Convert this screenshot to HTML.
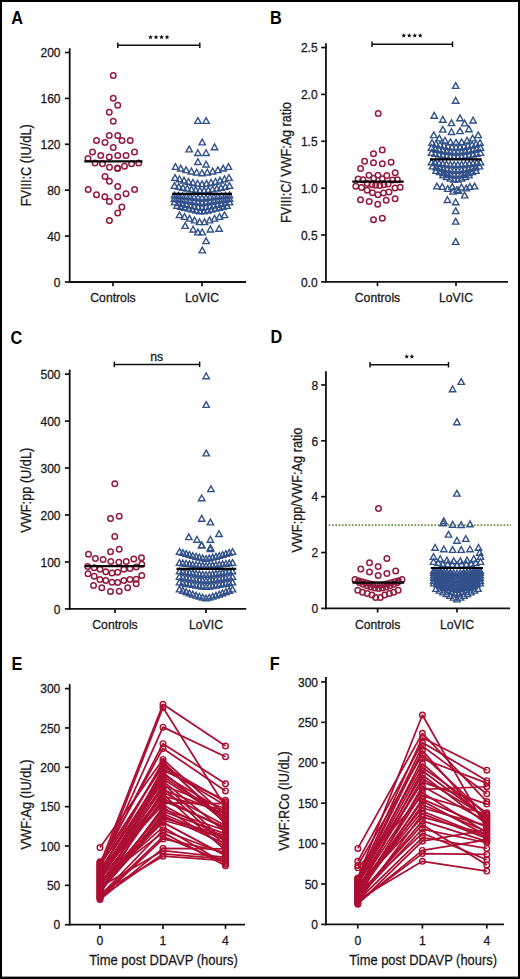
<!DOCTYPE html><html><head><meta charset="utf-8"><style>html,body{margin:0;padding:0;background:#fff;}svg{display:block;}html,body{overflow:hidden;}text{font-family:"Liberation Sans",sans-serif;}</style></head><body><svg width="520" height="979" viewBox="0 0 520 979" font-family="Liberation Sans, sans-serif">
<rect x="0" y="0" width="520" height="979" fill="#000"/>
<rect x="2" y="2" width="516" height="974.6" fill="#fff"/>
<text transform="translate(11.2 23.6) scale(0.92 1)" font-size="17.7" font-weight="bold" fill="#000">A</text>
<text transform="translate(270.0 23.6) scale(0.92 1)" font-size="17.7" font-weight="bold" fill="#000">B</text>
<text transform="translate(10.6 343.7) scale(0.92 1)" font-size="17.7" font-weight="bold" fill="#000">C</text>
<text transform="translate(270.4 343.2) scale(0.92 1)" font-size="17.7" font-weight="bold" fill="#000">D</text>
<text transform="translate(11.6 669.6) scale(0.92 1)" font-size="17.7" font-weight="bold" fill="#000">E</text>
<text transform="translate(269.7 669.6) scale(0.92 1)" font-size="17.7" font-weight="bold" fill="#000">F</text>
<line x1="69.70" y1="48.30" x2="69.70" y2="282.80" stroke="#111" stroke-width="1.8" />
<line x1="64.90" y1="282.00" x2="69.70" y2="282.00" stroke="#111" stroke-width="1.7" />
<text x="60.5" y="286.7" font-size="12" text-anchor="end" font-weight="normal" fill="#1a1a1a" stroke="#1a1a1a" stroke-width="0.28">0</text>
<line x1="64.90" y1="236.10" x2="69.70" y2="236.10" stroke="#111" stroke-width="1.7" />
<text x="60.5" y="240.79999999999998" font-size="12" text-anchor="end" font-weight="normal" fill="#1a1a1a" stroke="#1a1a1a" stroke-width="0.28">40</text>
<line x1="64.90" y1="190.20" x2="69.70" y2="190.20" stroke="#111" stroke-width="1.7" />
<text x="60.5" y="194.89999999999998" font-size="12" text-anchor="end" font-weight="normal" fill="#1a1a1a" stroke="#1a1a1a" stroke-width="0.28">80</text>
<line x1="64.90" y1="144.30" x2="69.70" y2="144.30" stroke="#111" stroke-width="1.7" />
<text x="60.5" y="149.0" font-size="12" text-anchor="end" font-weight="normal" fill="#1a1a1a" stroke="#1a1a1a" stroke-width="0.28">120</text>
<line x1="64.90" y1="98.40" x2="69.70" y2="98.40" stroke="#111" stroke-width="1.7" />
<text x="60.5" y="103.10000000000001" font-size="12" text-anchor="end" font-weight="normal" fill="#1a1a1a" stroke="#1a1a1a" stroke-width="0.28">160</text>
<line x1="64.90" y1="52.50" x2="69.70" y2="52.50" stroke="#111" stroke-width="1.7" />
<text x="60.5" y="57.2" font-size="12" text-anchor="end" font-weight="normal" fill="#1a1a1a" stroke="#1a1a1a" stroke-width="0.28">200</text>
<line x1="68.90" y1="282.00" x2="246.00" y2="282.00" stroke="#111" stroke-width="1.8" />
<line x1="113.00" y1="282.00" x2="113.00" y2="286.20" stroke="#111" stroke-width="1.7" />
<line x1="202.00" y1="282.00" x2="202.00" y2="286.20" stroke="#111" stroke-width="1.7" />
<text x="113" y="301.5" font-size="12.2" text-anchor="middle" font-weight="normal" fill="#1a1a1a" stroke="#1a1a1a" stroke-width="0.28">Controls</text>
<text x="202" y="301.5" font-size="12.2" text-anchor="middle" font-weight="normal" fill="#1a1a1a" stroke="#1a1a1a" stroke-width="0.28">LoVIC</text>
<text x="31.1" y="165.3" font-size="14.3" text-anchor="middle" font-weight="normal" fill="#1a1a1a" stroke="#1a1a1a" stroke-width="0.28" textLength="82" lengthAdjust="spacingAndGlyphs" transform="rotate(-90 31.1 165.3)">FVIII:C (IU/dL)</text>
<line x1="117.80" y1="45.30" x2="199.80" y2="45.30" stroke="#111" stroke-width="1.5" />
<line x1="117.80" y1="42.50" x2="117.80" y2="48.10" stroke="#111" stroke-width="1.5" />
<line x1="199.80" y1="42.50" x2="199.80" y2="48.10" stroke="#111" stroke-width="1.5" />
<polygon points="150.55,34.70 151.23,36.27 152.93,36.43 151.64,37.56 152.02,39.22 150.55,38.35 149.08,39.22 149.46,37.56 148.17,36.43 149.87,36.27" fill="#111"/>
<polygon points="156.05,34.70 156.73,36.27 158.43,36.43 157.14,37.56 157.52,39.22 156.05,38.35 154.58,39.22 154.96,37.56 153.67,36.43 155.37,36.27" fill="#111"/>
<polygon points="161.55,34.70 162.23,36.27 163.93,36.43 162.64,37.56 163.02,39.22 161.55,38.35 160.08,39.22 160.46,37.56 159.17,36.43 160.87,36.27" fill="#111"/>
<polygon points="167.05,34.70 167.73,36.27 169.43,36.43 168.14,37.56 168.52,39.22 167.05,38.35 165.58,39.22 165.96,37.56 164.67,36.43 166.37,36.27" fill="#111"/>
<line x1="325.95" y1="43.20" x2="325.95" y2="282.70" stroke="#111" stroke-width="1.8" />
<line x1="321.15" y1="281.90" x2="325.95" y2="281.90" stroke="#111" stroke-width="1.7" />
<text x="317.6" y="286.59999999999997" font-size="12" text-anchor="end" font-weight="normal" fill="#1a1a1a" stroke="#1a1a1a" stroke-width="0.28">0.0</text>
<line x1="321.15" y1="235.02" x2="325.95" y2="235.02" stroke="#111" stroke-width="1.7" />
<text x="317.6" y="239.72499999999997" font-size="12" text-anchor="end" font-weight="normal" fill="#1a1a1a" stroke="#1a1a1a" stroke-width="0.28">0.5</text>
<line x1="321.15" y1="188.15" x2="325.95" y2="188.15" stroke="#111" stroke-width="1.7" />
<text x="317.6" y="192.84999999999997" font-size="12" text-anchor="end" font-weight="normal" fill="#1a1a1a" stroke="#1a1a1a" stroke-width="0.28">1.0</text>
<line x1="321.15" y1="141.27" x2="325.95" y2="141.27" stroke="#111" stroke-width="1.7" />
<text x="317.6" y="145.97499999999997" font-size="12" text-anchor="end" font-weight="normal" fill="#1a1a1a" stroke="#1a1a1a" stroke-width="0.28">1.5</text>
<line x1="321.15" y1="94.40" x2="325.95" y2="94.40" stroke="#111" stroke-width="1.7" />
<text x="317.6" y="99.09999999999998" font-size="12" text-anchor="end" font-weight="normal" fill="#1a1a1a" stroke="#1a1a1a" stroke-width="0.28">2.0</text>
<line x1="321.15" y1="47.52" x2="325.95" y2="47.52" stroke="#111" stroke-width="1.7" />
<text x="317.6" y="52.22499999999998" font-size="12" text-anchor="end" font-weight="normal" fill="#1a1a1a" stroke="#1a1a1a" stroke-width="0.28">2.5</text>
<line x1="325.15" y1="281.90" x2="508.00" y2="281.90" stroke="#111" stroke-width="1.8" />
<line x1="377.50" y1="281.90" x2="377.50" y2="286.10" stroke="#111" stroke-width="1.7" />
<line x1="456.00" y1="281.90" x2="456.00" y2="286.10" stroke="#111" stroke-width="1.7" />
<text x="377.5" y="301.5" font-size="12.2" text-anchor="middle" font-weight="normal" fill="#1a1a1a" stroke="#1a1a1a" stroke-width="0.28">Controls</text>
<text x="456" y="301.5" font-size="12.2" text-anchor="middle" font-weight="normal" fill="#1a1a1a" stroke="#1a1a1a" stroke-width="0.28">LoVIC</text>
<text x="291.5" y="162.4" font-size="14.3" text-anchor="middle" font-weight="normal" fill="#1a1a1a" stroke="#1a1a1a" stroke-width="0.28" textLength="121" lengthAdjust="spacingAndGlyphs" transform="rotate(-90 291.5 162.4)">FVIII:C/ VWF:Ag ratio</text>
<line x1="372.00" y1="44.30" x2="452.50" y2="44.30" stroke="#111" stroke-width="1.5" />
<line x1="372.00" y1="41.50" x2="372.00" y2="47.10" stroke="#111" stroke-width="1.5" />
<line x1="452.50" y1="41.50" x2="452.50" y2="47.10" stroke="#111" stroke-width="1.5" />
<polygon points="403.75,33.10 404.43,34.67 406.13,34.83 404.84,35.96 405.22,37.62 403.75,36.75 402.28,37.62 402.66,35.96 401.37,34.83 403.07,34.67" fill="#111"/>
<polygon points="409.25,33.10 409.93,34.67 411.63,34.83 410.34,35.96 410.72,37.62 409.25,36.75 407.78,37.62 408.16,35.96 406.87,34.83 408.57,34.67" fill="#111"/>
<polygon points="414.75,33.10 415.43,34.67 417.13,34.83 415.84,35.96 416.22,37.62 414.75,36.75 413.28,37.62 413.66,35.96 412.37,34.83 414.07,34.67" fill="#111"/>
<polygon points="420.25,33.10 420.93,34.67 422.63,34.83 421.34,35.96 421.72,37.62 420.25,36.75 418.78,37.62 419.16,35.96 417.87,34.83 419.57,34.67" fill="#111"/>
<line x1="69.70" y1="369.60" x2="69.70" y2="609.70" stroke="#111" stroke-width="1.8" />
<line x1="64.90" y1="608.90" x2="69.70" y2="608.90" stroke="#111" stroke-width="1.7" />
<text x="60.5" y="613.6" font-size="12" text-anchor="end" font-weight="normal" fill="#1a1a1a" stroke="#1a1a1a" stroke-width="0.28">0</text>
<line x1="64.90" y1="561.94" x2="69.70" y2="561.94" stroke="#111" stroke-width="1.7" />
<text x="60.5" y="566.64" font-size="12" text-anchor="end" font-weight="normal" fill="#1a1a1a" stroke="#1a1a1a" stroke-width="0.28">100</text>
<line x1="64.90" y1="514.98" x2="69.70" y2="514.98" stroke="#111" stroke-width="1.7" />
<text x="60.5" y="519.6800000000001" font-size="12" text-anchor="end" font-weight="normal" fill="#1a1a1a" stroke="#1a1a1a" stroke-width="0.28">200</text>
<line x1="64.90" y1="468.02" x2="69.70" y2="468.02" stroke="#111" stroke-width="1.7" />
<text x="60.5" y="472.71999999999997" font-size="12" text-anchor="end" font-weight="normal" fill="#1a1a1a" stroke="#1a1a1a" stroke-width="0.28">300</text>
<line x1="64.90" y1="421.06" x2="69.70" y2="421.06" stroke="#111" stroke-width="1.7" />
<text x="60.5" y="425.75999999999993" font-size="12" text-anchor="end" font-weight="normal" fill="#1a1a1a" stroke="#1a1a1a" stroke-width="0.28">400</text>
<line x1="64.90" y1="374.10" x2="69.70" y2="374.10" stroke="#111" stroke-width="1.7" />
<text x="60.5" y="378.79999999999995" font-size="12" text-anchor="end" font-weight="normal" fill="#1a1a1a" stroke="#1a1a1a" stroke-width="0.28">500</text>
<line x1="68.90" y1="608.90" x2="246.30" y2="608.90" stroke="#111" stroke-width="1.8" />
<line x1="115.00" y1="608.90" x2="115.00" y2="613.10" stroke="#111" stroke-width="1.7" />
<line x1="206.00" y1="608.90" x2="206.00" y2="613.10" stroke="#111" stroke-width="1.7" />
<text x="115" y="628.9" font-size="12.2" text-anchor="middle" font-weight="normal" fill="#1a1a1a" stroke="#1a1a1a" stroke-width="0.28">Controls</text>
<text x="206" y="628.9" font-size="12.2" text-anchor="middle" font-weight="normal" fill="#1a1a1a" stroke="#1a1a1a" stroke-width="0.28">LoVIC</text>
<text x="31.2" y="490.2" font-size="14.3" text-anchor="middle" font-weight="normal" fill="#1a1a1a" stroke="#1a1a1a" stroke-width="0.28" textLength="85" lengthAdjust="spacingAndGlyphs" transform="rotate(-90 31.2 490.2)">VWF:pp (U/dL)</text>
<line x1="114.30" y1="364.40" x2="199.60" y2="364.40" stroke="#111" stroke-width="1.5" />
<line x1="114.30" y1="361.60" x2="114.30" y2="367.20" stroke="#111" stroke-width="1.5" />
<line x1="199.60" y1="361.60" x2="199.60" y2="367.20" stroke="#111" stroke-width="1.5" />
<text x="156.7" y="360.8" font-size="12.3" text-anchor="middle" font-weight="normal" fill="#1a1a1a" stroke="#1a1a1a" stroke-width="0.28">ns</text>
<line x1="325.95" y1="371.30" x2="325.95" y2="609.20" stroke="#111" stroke-width="1.8" />
<line x1="321.15" y1="608.40" x2="325.95" y2="608.40" stroke="#111" stroke-width="1.7" />
<text x="318.2" y="613.1" font-size="12" text-anchor="end" font-weight="normal" fill="#1a1a1a" stroke="#1a1a1a" stroke-width="0.28">0</text>
<line x1="321.15" y1="552.54" x2="325.95" y2="552.54" stroke="#111" stroke-width="1.7" />
<text x="318.2" y="557.24" font-size="12" text-anchor="end" font-weight="normal" fill="#1a1a1a" stroke="#1a1a1a" stroke-width="0.28">2</text>
<line x1="321.15" y1="496.68" x2="325.95" y2="496.68" stroke="#111" stroke-width="1.7" />
<text x="318.2" y="501.37999999999994" font-size="12" text-anchor="end" font-weight="normal" fill="#1a1a1a" stroke="#1a1a1a" stroke-width="0.28">4</text>
<line x1="321.15" y1="440.82" x2="325.95" y2="440.82" stroke="#111" stroke-width="1.7" />
<text x="318.2" y="445.52" font-size="12" text-anchor="end" font-weight="normal" fill="#1a1a1a" stroke="#1a1a1a" stroke-width="0.28">6</text>
<line x1="321.15" y1="384.96" x2="325.95" y2="384.96" stroke="#111" stroke-width="1.7" />
<text x="318.2" y="389.65999999999997" font-size="12" text-anchor="end" font-weight="normal" fill="#1a1a1a" stroke="#1a1a1a" stroke-width="0.28">8</text>
<line x1="325.15" y1="608.40" x2="510.00" y2="608.40" stroke="#111" stroke-width="1.8" />
<line x1="377.60" y1="608.40" x2="377.60" y2="612.60" stroke="#111" stroke-width="1.7" />
<line x1="457.00" y1="608.40" x2="457.00" y2="612.60" stroke="#111" stroke-width="1.7" />
<text x="377.6" y="628.9" font-size="12.2" text-anchor="middle" font-weight="normal" fill="#1a1a1a" stroke="#1a1a1a" stroke-width="0.28">Controls</text>
<text x="457" y="628.9" font-size="12.2" text-anchor="middle" font-weight="normal" fill="#1a1a1a" stroke="#1a1a1a" stroke-width="0.28">LoVIC</text>
<text x="301.6" y="490.1" font-size="14.3" text-anchor="middle" font-weight="normal" fill="#1a1a1a" stroke="#1a1a1a" stroke-width="0.28" textLength="125" lengthAdjust="spacingAndGlyphs" transform="rotate(-90 301.6 490.1)">VWF:pp/VWF:Ag ratio</text>
<line x1="370.00" y1="364.70" x2="448.50" y2="364.70" stroke="#111" stroke-width="1.5" />
<line x1="370.00" y1="361.90" x2="370.00" y2="367.50" stroke="#111" stroke-width="1.5" />
<line x1="448.50" y1="361.90" x2="448.50" y2="367.50" stroke="#111" stroke-width="1.5" />
<polygon points="406.70,354.10 407.38,355.67 409.08,355.83 407.79,356.96 408.17,358.62 406.70,357.75 405.23,358.62 405.61,356.96 404.32,355.83 406.02,355.67" fill="#111"/>
<polygon points="411.90,354.10 412.58,355.67 414.28,355.83 412.99,356.96 413.37,358.62 411.90,357.75 410.43,358.62 410.81,356.96 409.52,355.83 411.22,355.67" fill="#111"/>
<line x1="69.70" y1="684.10" x2="69.70" y2="925.50" stroke="#111" stroke-width="1.8" />
<line x1="64.90" y1="924.70" x2="69.70" y2="924.70" stroke="#111" stroke-width="1.7" />
<text x="60.3" y="929.4000000000001" font-size="12" text-anchor="end" font-weight="normal" fill="#1a1a1a" stroke="#1a1a1a" stroke-width="0.28">0</text>
<line x1="64.90" y1="885.35" x2="69.70" y2="885.35" stroke="#111" stroke-width="1.7" />
<text x="60.3" y="890.0500000000001" font-size="12" text-anchor="end" font-weight="normal" fill="#1a1a1a" stroke="#1a1a1a" stroke-width="0.28">50</text>
<line x1="64.90" y1="846.00" x2="69.70" y2="846.00" stroke="#111" stroke-width="1.7" />
<text x="60.3" y="850.7" font-size="12" text-anchor="end" font-weight="normal" fill="#1a1a1a" stroke="#1a1a1a" stroke-width="0.28">100</text>
<line x1="64.90" y1="806.65" x2="69.70" y2="806.65" stroke="#111" stroke-width="1.7" />
<text x="60.3" y="811.3500000000001" font-size="12" text-anchor="end" font-weight="normal" fill="#1a1a1a" stroke="#1a1a1a" stroke-width="0.28">150</text>
<line x1="64.90" y1="767.30" x2="69.70" y2="767.30" stroke="#111" stroke-width="1.7" />
<text x="60.3" y="772.0000000000001" font-size="12" text-anchor="end" font-weight="normal" fill="#1a1a1a" stroke="#1a1a1a" stroke-width="0.28">200</text>
<line x1="64.90" y1="727.95" x2="69.70" y2="727.95" stroke="#111" stroke-width="1.7" />
<text x="60.3" y="732.6500000000001" font-size="12" text-anchor="end" font-weight="normal" fill="#1a1a1a" stroke="#1a1a1a" stroke-width="0.28">250</text>
<line x1="64.90" y1="688.60" x2="69.70" y2="688.60" stroke="#111" stroke-width="1.7" />
<text x="60.3" y="693.3000000000001" font-size="12" text-anchor="end" font-weight="normal" fill="#1a1a1a" stroke="#1a1a1a" stroke-width="0.28">300</text>
<line x1="68.90" y1="924.70" x2="245.00" y2="924.70" stroke="#111" stroke-width="1.8" />
<line x1="100.00" y1="924.70" x2="100.00" y2="928.90" stroke="#111" stroke-width="1.7" />
<line x1="163.00" y1="924.70" x2="163.00" y2="928.90" stroke="#111" stroke-width="1.7" />
<line x1="225.50" y1="924.70" x2="225.50" y2="928.90" stroke="#111" stroke-width="1.7" />
<text x="100" y="944.5" font-size="12.2" text-anchor="middle" font-weight="normal" fill="#1a1a1a" stroke="#1a1a1a" stroke-width="0.28">0</text>
<text x="163" y="944.5" font-size="12.2" text-anchor="middle" font-weight="normal" fill="#1a1a1a" stroke="#1a1a1a" stroke-width="0.28">1</text>
<text x="225.5" y="944.5" font-size="12.2" text-anchor="middle" font-weight="normal" fill="#1a1a1a" stroke="#1a1a1a" stroke-width="0.28">4</text>
<text x="31.2" y="804.4" font-size="14.3" text-anchor="middle" font-weight="normal" fill="#1a1a1a" stroke="#1a1a1a" stroke-width="0.28" textLength="90" lengthAdjust="spacingAndGlyphs" transform="rotate(-90 31.2 804.4)">VWF:Ag (IU/dL)</text>
<text x="163.6" y="965" font-size="15.2" text-anchor="middle" font-weight="normal" fill="#1a1a1a" stroke="#1a1a1a" stroke-width="0.28" textLength="148.6" lengthAdjust="spacingAndGlyphs">Time post DDAVP (hours)</text>
<line x1="325.95" y1="677.00" x2="325.95" y2="925.20" stroke="#111" stroke-width="1.8" />
<line x1="321.15" y1="924.40" x2="325.95" y2="924.40" stroke="#111" stroke-width="1.7" />
<text x="318" y="929.1" font-size="12" text-anchor="end" font-weight="normal" fill="#1a1a1a" stroke="#1a1a1a" stroke-width="0.28">0</text>
<line x1="321.15" y1="883.99" x2="325.95" y2="883.99" stroke="#111" stroke-width="1.7" />
<text x="318" y="888.6850000000001" font-size="12" text-anchor="end" font-weight="normal" fill="#1a1a1a" stroke="#1a1a1a" stroke-width="0.28">50</text>
<line x1="321.15" y1="843.57" x2="325.95" y2="843.57" stroke="#111" stroke-width="1.7" />
<text x="318" y="848.27" font-size="12" text-anchor="end" font-weight="normal" fill="#1a1a1a" stroke="#1a1a1a" stroke-width="0.28">100</text>
<line x1="321.15" y1="803.15" x2="325.95" y2="803.15" stroke="#111" stroke-width="1.7" />
<text x="318" y="807.855" font-size="12" text-anchor="end" font-weight="normal" fill="#1a1a1a" stroke="#1a1a1a" stroke-width="0.28">150</text>
<line x1="321.15" y1="762.74" x2="325.95" y2="762.74" stroke="#111" stroke-width="1.7" />
<text x="318" y="767.44" font-size="12" text-anchor="end" font-weight="normal" fill="#1a1a1a" stroke="#1a1a1a" stroke-width="0.28">200</text>
<line x1="321.15" y1="722.32" x2="325.95" y2="722.32" stroke="#111" stroke-width="1.7" />
<text x="318" y="727.025" font-size="12" text-anchor="end" font-weight="normal" fill="#1a1a1a" stroke="#1a1a1a" stroke-width="0.28">250</text>
<line x1="321.15" y1="681.91" x2="325.95" y2="681.91" stroke="#111" stroke-width="1.7" />
<text x="318" y="686.61" font-size="12" text-anchor="end" font-weight="normal" fill="#1a1a1a" stroke="#1a1a1a" stroke-width="0.28">300</text>
<line x1="325.15" y1="924.40" x2="504.00" y2="924.40" stroke="#111" stroke-width="1.8" />
<line x1="357.80" y1="924.40" x2="357.80" y2="928.60" stroke="#111" stroke-width="1.7" />
<line x1="422.40" y1="924.40" x2="422.40" y2="928.60" stroke="#111" stroke-width="1.7" />
<line x1="486.80" y1="924.40" x2="486.80" y2="928.60" stroke="#111" stroke-width="1.7" />
<text x="357.8" y="944.5" font-size="12.2" text-anchor="middle" font-weight="normal" fill="#1a1a1a" stroke="#1a1a1a" stroke-width="0.28">0</text>
<text x="422.4" y="944.5" font-size="12.2" text-anchor="middle" font-weight="normal" fill="#1a1a1a" stroke="#1a1a1a" stroke-width="0.28">1</text>
<text x="486.8" y="944.5" font-size="12.2" text-anchor="middle" font-weight="normal" fill="#1a1a1a" stroke="#1a1a1a" stroke-width="0.28">4</text>
<text x="288.7" y="801" font-size="14.3" text-anchor="middle" font-weight="normal" fill="#1a1a1a" stroke="#1a1a1a" stroke-width="0.28" textLength="99.7" lengthAdjust="spacingAndGlyphs" transform="rotate(-90 288.7 801)">VWF:RCo (IU/dL)</text>
<text x="423.2" y="965" font-size="15.2" text-anchor="middle" font-weight="normal" fill="#1a1a1a" stroke="#1a1a1a" stroke-width="0.28" textLength="147.7" lengthAdjust="spacingAndGlyphs">Time post DDAVP (hours)</text>
<circle cx="113.25" cy="75.50" r="2.75" fill="none" stroke="#951b3d" stroke-width="1.5"/>
<circle cx="113.25" cy="98.25" r="2.75" fill="none" stroke="#951b3d" stroke-width="1.5"/>
<circle cx="117.75" cy="105.25" r="2.75" fill="none" stroke="#951b3d" stroke-width="1.5"/>
<circle cx="109.25" cy="112.25" r="2.75" fill="none" stroke="#951b3d" stroke-width="1.5"/>
<circle cx="113.25" cy="121.25" r="2.75" fill="none" stroke="#951b3d" stroke-width="1.5"/>
<circle cx="109.25" cy="135.50" r="2.75" fill="none" stroke="#951b3d" stroke-width="1.5"/>
<circle cx="117.75" cy="135.50" r="2.75" fill="none" stroke="#951b3d" stroke-width="1.5"/>
<circle cx="96.50" cy="140.50" r="2.75" fill="none" stroke="#951b3d" stroke-width="1.5"/>
<circle cx="105.00" cy="142.50" r="2.75" fill="none" stroke="#951b3d" stroke-width="1.5"/>
<circle cx="122.00" cy="140.50" r="2.75" fill="none" stroke="#951b3d" stroke-width="1.5"/>
<circle cx="130.25" cy="140.50" r="2.75" fill="none" stroke="#951b3d" stroke-width="1.5"/>
<circle cx="113.25" cy="147.50" r="2.75" fill="none" stroke="#951b3d" stroke-width="1.5"/>
<circle cx="92.50" cy="152.00" r="2.75" fill="none" stroke="#951b3d" stroke-width="1.5"/>
<circle cx="100.75" cy="155.50" r="2.75" fill="none" stroke="#951b3d" stroke-width="1.5"/>
<circle cx="109.25" cy="157.00" r="2.75" fill="none" stroke="#951b3d" stroke-width="1.5"/>
<circle cx="117.75" cy="155.50" r="2.75" fill="none" stroke="#951b3d" stroke-width="1.5"/>
<circle cx="126.00" cy="155.50" r="2.75" fill="none" stroke="#951b3d" stroke-width="1.5"/>
<circle cx="134.50" cy="152.00" r="2.75" fill="none" stroke="#951b3d" stroke-width="1.5"/>
<circle cx="88.00" cy="158.50" r="2.75" fill="none" stroke="#951b3d" stroke-width="1.5"/>
<circle cx="95.00" cy="163.00" r="2.75" fill="none" stroke="#951b3d" stroke-width="1.5"/>
<circle cx="102.50" cy="163.80" r="2.75" fill="none" stroke="#951b3d" stroke-width="1.5"/>
<circle cx="109.50" cy="167.20" r="2.75" fill="none" stroke="#951b3d" stroke-width="1.5"/>
<circle cx="117.50" cy="168.00" r="2.75" fill="none" stroke="#951b3d" stroke-width="1.5"/>
<circle cx="117.50" cy="168.60" r="2.75" fill="none" stroke="#951b3d" stroke-width="1.5"/>
<circle cx="124.50" cy="166.30" r="2.75" fill="none" stroke="#951b3d" stroke-width="1.5"/>
<circle cx="131.60" cy="163.80" r="2.75" fill="none" stroke="#951b3d" stroke-width="1.5"/>
<circle cx="138.70" cy="163.00" r="2.75" fill="none" stroke="#951b3d" stroke-width="1.5"/>
<circle cx="105.00" cy="176.40" r="2.75" fill="none" stroke="#951b3d" stroke-width="1.5"/>
<circle cx="109.40" cy="181.20" r="2.75" fill="none" stroke="#951b3d" stroke-width="1.5"/>
<circle cx="117.70" cy="186.40" r="2.75" fill="none" stroke="#951b3d" stroke-width="1.5"/>
<circle cx="88.20" cy="189.50" r="2.75" fill="none" stroke="#951b3d" stroke-width="1.5"/>
<circle cx="134.60" cy="189.50" r="2.75" fill="none" stroke="#951b3d" stroke-width="1.5"/>
<circle cx="96.50" cy="194.80" r="2.75" fill="none" stroke="#951b3d" stroke-width="1.5"/>
<circle cx="104.80" cy="196.70" r="2.75" fill="none" stroke="#951b3d" stroke-width="1.5"/>
<circle cx="117.70" cy="196.70" r="2.75" fill="none" stroke="#951b3d" stroke-width="1.5"/>
<circle cx="126.00" cy="193.80" r="2.75" fill="none" stroke="#951b3d" stroke-width="1.5"/>
<circle cx="109.40" cy="201.50" r="2.75" fill="none" stroke="#951b3d" stroke-width="1.5"/>
<circle cx="121.90" cy="207.10" r="2.75" fill="none" stroke="#951b3d" stroke-width="1.5"/>
<circle cx="117.70" cy="213.00" r="2.75" fill="none" stroke="#951b3d" stroke-width="1.5"/>
<circle cx="109.40" cy="220.60" r="2.75" fill="none" stroke="#951b3d" stroke-width="1.5"/>
<line x1="84.30" y1="161.30" x2="142.50" y2="161.30" stroke="#000" stroke-width="2.2" />
<path d="M197.90 117.62L201.10 123.38L194.70 123.38Z" fill="none" stroke="#32508a" stroke-width="1.4" stroke-linejoin="miter"/>
<path d="M206.10 117.62L209.30 123.38L202.90 123.38Z" fill="none" stroke="#32508a" stroke-width="1.4" stroke-linejoin="miter"/>
<path d="M202.20 139.12L205.40 144.88L199.00 144.88Z" fill="none" stroke="#32508a" stroke-width="1.4" stroke-linejoin="miter"/>
<path d="M214.50 143.92L217.70 149.68L211.30 149.68Z" fill="none" stroke="#32508a" stroke-width="1.4" stroke-linejoin="miter"/>
<path d="M189.20 146.12L192.40 151.88L186.00 151.88Z" fill="none" stroke="#32508a" stroke-width="1.4" stroke-linejoin="miter"/>
<path d="M197.90 149.72L201.10 155.48L194.70 155.48Z" fill="none" stroke="#32508a" stroke-width="1.4" stroke-linejoin="miter"/>
<path d="M206.10 149.72L209.30 155.48L202.90 155.48Z" fill="none" stroke="#32508a" stroke-width="1.4" stroke-linejoin="miter"/>
<path d="M197.90 158.72L201.10 164.48L194.70 164.48Z" fill="none" stroke="#32508a" stroke-width="1.4" stroke-linejoin="miter"/>
<path d="M206.10 161.22L209.30 166.98L202.90 166.98Z" fill="none" stroke="#32508a" stroke-width="1.4" stroke-linejoin="miter"/>
<path d="M175.50 163.62L178.70 169.38L172.30 169.38Z" fill="none" stroke="#32508a" stroke-width="1.4" stroke-linejoin="miter"/>
<path d="M180.80 165.31L184.00 171.07L177.60 171.07Z" fill="none" stroke="#32508a" stroke-width="1.4" stroke-linejoin="miter"/>
<path d="M186.10 166.84L189.30 172.60L182.90 172.60Z" fill="none" stroke="#32508a" stroke-width="1.4" stroke-linejoin="miter"/>
<path d="M191.40 168.17L194.60 173.93L188.20 173.93Z" fill="none" stroke="#32508a" stroke-width="1.4" stroke-linejoin="miter"/>
<path d="M196.70 169.26L199.90 175.02L193.50 175.02Z" fill="none" stroke="#32508a" stroke-width="1.4" stroke-linejoin="miter"/>
<path d="M202.00 169.92L205.20 175.68L198.80 175.68Z" fill="none" stroke="#32508a" stroke-width="1.4" stroke-linejoin="miter"/>
<path d="M207.30 169.26L210.50 175.02L204.10 175.02Z" fill="none" stroke="#32508a" stroke-width="1.4" stroke-linejoin="miter"/>
<path d="M212.60 168.17L215.80 173.93L209.40 173.93Z" fill="none" stroke="#32508a" stroke-width="1.4" stroke-linejoin="miter"/>
<path d="M217.90 166.84L221.10 172.60L214.70 172.60Z" fill="none" stroke="#32508a" stroke-width="1.4" stroke-linejoin="miter"/>
<path d="M223.20 165.31L226.40 171.07L220.00 171.07Z" fill="none" stroke="#32508a" stroke-width="1.4" stroke-linejoin="miter"/>
<path d="M228.50 163.62L231.70 169.38L225.30 169.38Z" fill="none" stroke="#32508a" stroke-width="1.4" stroke-linejoin="miter"/>
<path d="M175.00 174.62L178.20 180.38L171.80 180.38Z" fill="none" stroke="#32508a" stroke-width="1.4" stroke-linejoin="miter"/>
<path d="M179.50 176.02L182.70 181.78L176.30 181.78Z" fill="none" stroke="#32508a" stroke-width="1.4" stroke-linejoin="miter"/>
<path d="M184.00 177.31L187.20 183.07L180.80 183.07Z" fill="none" stroke="#32508a" stroke-width="1.4" stroke-linejoin="miter"/>
<path d="M188.50 178.47L191.70 184.23L185.30 184.23Z" fill="none" stroke="#32508a" stroke-width="1.4" stroke-linejoin="miter"/>
<path d="M193.00 179.49L196.20 185.25L189.80 185.25Z" fill="none" stroke="#32508a" stroke-width="1.4" stroke-linejoin="miter"/>
<path d="M197.50 180.32L200.70 186.08L194.30 186.08Z" fill="none" stroke="#32508a" stroke-width="1.4" stroke-linejoin="miter"/>
<path d="M202.00 180.82L205.20 186.58L198.80 186.58Z" fill="none" stroke="#32508a" stroke-width="1.4" stroke-linejoin="miter"/>
<path d="M206.50 180.32L209.70 186.08L203.30 186.08Z" fill="none" stroke="#32508a" stroke-width="1.4" stroke-linejoin="miter"/>
<path d="M211.00 179.49L214.20 185.25L207.80 185.25Z" fill="none" stroke="#32508a" stroke-width="1.4" stroke-linejoin="miter"/>
<path d="M215.50 178.47L218.70 184.23L212.30 184.23Z" fill="none" stroke="#32508a" stroke-width="1.4" stroke-linejoin="miter"/>
<path d="M220.00 177.31L223.20 183.07L216.80 183.07Z" fill="none" stroke="#32508a" stroke-width="1.4" stroke-linejoin="miter"/>
<path d="M224.50 176.02L227.70 181.78L221.30 181.78Z" fill="none" stroke="#32508a" stroke-width="1.4" stroke-linejoin="miter"/>
<path d="M229.00 174.62L232.20 180.38L225.80 180.38Z" fill="none" stroke="#32508a" stroke-width="1.4" stroke-linejoin="miter"/>
<path d="M174.50 182.62L177.70 188.38L171.30 188.38Z" fill="none" stroke="#32508a" stroke-width="1.4" stroke-linejoin="miter"/>
<path d="M178.73 183.62L181.93 189.38L175.53 189.38Z" fill="none" stroke="#32508a" stroke-width="1.4" stroke-linejoin="miter"/>
<path d="M182.96 184.55L186.16 190.31L179.76 190.31Z" fill="none" stroke="#32508a" stroke-width="1.4" stroke-linejoin="miter"/>
<path d="M187.19 185.40L190.39 191.16L183.99 191.16Z" fill="none" stroke="#32508a" stroke-width="1.4" stroke-linejoin="miter"/>
<path d="M191.42 186.16L194.62 191.92L188.22 191.92Z" fill="none" stroke="#32508a" stroke-width="1.4" stroke-linejoin="miter"/>
<path d="M195.65 186.80L198.85 192.56L192.45 192.56Z" fill="none" stroke="#32508a" stroke-width="1.4" stroke-linejoin="miter"/>
<path d="M199.88 187.29L203.08 193.05L196.68 193.05Z" fill="none" stroke="#32508a" stroke-width="1.4" stroke-linejoin="miter"/>
<path d="M204.12 187.29L207.32 193.05L200.92 193.05Z" fill="none" stroke="#32508a" stroke-width="1.4" stroke-linejoin="miter"/>
<path d="M208.35 186.80L211.55 192.56L205.15 192.56Z" fill="none" stroke="#32508a" stroke-width="1.4" stroke-linejoin="miter"/>
<path d="M212.58 186.16L215.78 191.92L209.38 191.92Z" fill="none" stroke="#32508a" stroke-width="1.4" stroke-linejoin="miter"/>
<path d="M216.81 185.40L220.01 191.16L213.61 191.16Z" fill="none" stroke="#32508a" stroke-width="1.4" stroke-linejoin="miter"/>
<path d="M221.04 184.55L224.24 190.31L217.84 190.31Z" fill="none" stroke="#32508a" stroke-width="1.4" stroke-linejoin="miter"/>
<path d="M225.27 183.62L228.47 189.38L222.07 189.38Z" fill="none" stroke="#32508a" stroke-width="1.4" stroke-linejoin="miter"/>
<path d="M229.50 182.62L232.70 188.38L226.30 188.38Z" fill="none" stroke="#32508a" stroke-width="1.4" stroke-linejoin="miter"/>
<path d="M174.50 192.12L177.70 197.88L171.30 197.88Z" fill="none" stroke="#32508a" stroke-width="1.4" stroke-linejoin="miter"/>
<path d="M178.43 192.55L181.63 198.31L175.23 198.31Z" fill="none" stroke="#32508a" stroke-width="1.4" stroke-linejoin="miter"/>
<path d="M182.36 192.98L185.56 198.74L179.16 198.74Z" fill="none" stroke="#32508a" stroke-width="1.4" stroke-linejoin="miter"/>
<path d="M186.29 193.41L189.49 199.17L183.09 199.17Z" fill="none" stroke="#32508a" stroke-width="1.4" stroke-linejoin="miter"/>
<path d="M190.21 193.83L193.41 199.59L187.01 199.59Z" fill="none" stroke="#32508a" stroke-width="1.4" stroke-linejoin="miter"/>
<path d="M194.14 194.26L197.34 200.02L190.94 200.02Z" fill="none" stroke="#32508a" stroke-width="1.4" stroke-linejoin="miter"/>
<path d="M198.07 194.69L201.27 200.45L194.87 200.45Z" fill="none" stroke="#32508a" stroke-width="1.4" stroke-linejoin="miter"/>
<path d="M202.00 195.12L205.20 200.88L198.80 200.88Z" fill="none" stroke="#32508a" stroke-width="1.4" stroke-linejoin="miter"/>
<path d="M205.93 194.69L209.13 200.45L202.73 200.45Z" fill="none" stroke="#32508a" stroke-width="1.4" stroke-linejoin="miter"/>
<path d="M209.86 194.26L213.06 200.02L206.66 200.02Z" fill="none" stroke="#32508a" stroke-width="1.4" stroke-linejoin="miter"/>
<path d="M213.79 193.83L216.99 199.59L210.59 199.59Z" fill="none" stroke="#32508a" stroke-width="1.4" stroke-linejoin="miter"/>
<path d="M217.71 193.41L220.91 199.17L214.51 199.17Z" fill="none" stroke="#32508a" stroke-width="1.4" stroke-linejoin="miter"/>
<path d="M221.64 192.98L224.84 198.74L218.44 198.74Z" fill="none" stroke="#32508a" stroke-width="1.4" stroke-linejoin="miter"/>
<path d="M225.57 192.55L228.77 198.31L222.37 198.31Z" fill="none" stroke="#32508a" stroke-width="1.4" stroke-linejoin="miter"/>
<path d="M229.50 192.12L232.70 197.88L226.30 197.88Z" fill="none" stroke="#32508a" stroke-width="1.4" stroke-linejoin="miter"/>
<path d="M174.50 195.62L177.70 201.38L171.30 201.38Z" fill="none" stroke="#32508a" stroke-width="1.4" stroke-linejoin="miter"/>
<path d="M178.43 196.19L181.63 201.95L175.23 201.95Z" fill="none" stroke="#32508a" stroke-width="1.4" stroke-linejoin="miter"/>
<path d="M182.36 196.76L185.56 202.52L179.16 202.52Z" fill="none" stroke="#32508a" stroke-width="1.4" stroke-linejoin="miter"/>
<path d="M186.29 197.33L189.49 203.09L183.09 203.09Z" fill="none" stroke="#32508a" stroke-width="1.4" stroke-linejoin="miter"/>
<path d="M190.21 197.91L193.41 203.67L187.01 203.67Z" fill="none" stroke="#32508a" stroke-width="1.4" stroke-linejoin="miter"/>
<path d="M194.14 198.48L197.34 204.24L190.94 204.24Z" fill="none" stroke="#32508a" stroke-width="1.4" stroke-linejoin="miter"/>
<path d="M198.07 199.05L201.27 204.81L194.87 204.81Z" fill="none" stroke="#32508a" stroke-width="1.4" stroke-linejoin="miter"/>
<path d="M202.00 199.62L205.20 205.38L198.80 205.38Z" fill="none" stroke="#32508a" stroke-width="1.4" stroke-linejoin="miter"/>
<path d="M205.93 199.05L209.13 204.81L202.73 204.81Z" fill="none" stroke="#32508a" stroke-width="1.4" stroke-linejoin="miter"/>
<path d="M209.86 198.48L213.06 204.24L206.66 204.24Z" fill="none" stroke="#32508a" stroke-width="1.4" stroke-linejoin="miter"/>
<path d="M213.79 197.91L216.99 203.67L210.59 203.67Z" fill="none" stroke="#32508a" stroke-width="1.4" stroke-linejoin="miter"/>
<path d="M217.71 197.33L220.91 203.09L214.51 203.09Z" fill="none" stroke="#32508a" stroke-width="1.4" stroke-linejoin="miter"/>
<path d="M221.64 196.76L224.84 202.52L218.44 202.52Z" fill="none" stroke="#32508a" stroke-width="1.4" stroke-linejoin="miter"/>
<path d="M225.57 196.19L228.77 201.95L222.37 201.95Z" fill="none" stroke="#32508a" stroke-width="1.4" stroke-linejoin="miter"/>
<path d="M229.50 195.62L232.70 201.38L226.30 201.38Z" fill="none" stroke="#32508a" stroke-width="1.4" stroke-linejoin="miter"/>
<path d="M174.50 199.12L177.70 204.88L171.30 204.88Z" fill="none" stroke="#32508a" stroke-width="1.4" stroke-linejoin="miter"/>
<path d="M178.43 199.91L181.63 205.67L175.23 205.67Z" fill="none" stroke="#32508a" stroke-width="1.4" stroke-linejoin="miter"/>
<path d="M182.36 200.69L185.56 206.45L179.16 206.45Z" fill="none" stroke="#32508a" stroke-width="1.4" stroke-linejoin="miter"/>
<path d="M186.29 201.48L189.49 207.24L183.09 207.24Z" fill="none" stroke="#32508a" stroke-width="1.4" stroke-linejoin="miter"/>
<path d="M190.21 202.26L193.41 208.02L187.01 208.02Z" fill="none" stroke="#32508a" stroke-width="1.4" stroke-linejoin="miter"/>
<path d="M194.14 203.05L197.34 208.81L190.94 208.81Z" fill="none" stroke="#32508a" stroke-width="1.4" stroke-linejoin="miter"/>
<path d="M198.07 203.83L201.27 209.59L194.87 209.59Z" fill="none" stroke="#32508a" stroke-width="1.4" stroke-linejoin="miter"/>
<path d="M202.00 204.62L205.20 210.38L198.80 210.38Z" fill="none" stroke="#32508a" stroke-width="1.4" stroke-linejoin="miter"/>
<path d="M205.93 203.83L209.13 209.59L202.73 209.59Z" fill="none" stroke="#32508a" stroke-width="1.4" stroke-linejoin="miter"/>
<path d="M209.86 203.05L213.06 208.81L206.66 208.81Z" fill="none" stroke="#32508a" stroke-width="1.4" stroke-linejoin="miter"/>
<path d="M213.79 202.26L216.99 208.02L210.59 208.02Z" fill="none" stroke="#32508a" stroke-width="1.4" stroke-linejoin="miter"/>
<path d="M217.71 201.48L220.91 207.24L214.51 207.24Z" fill="none" stroke="#32508a" stroke-width="1.4" stroke-linejoin="miter"/>
<path d="M221.64 200.69L224.84 206.45L218.44 206.45Z" fill="none" stroke="#32508a" stroke-width="1.4" stroke-linejoin="miter"/>
<path d="M225.57 199.91L228.77 205.67L222.37 205.67Z" fill="none" stroke="#32508a" stroke-width="1.4" stroke-linejoin="miter"/>
<path d="M229.50 199.12L232.70 204.88L226.30 204.88Z" fill="none" stroke="#32508a" stroke-width="1.4" stroke-linejoin="miter"/>
<path d="M177.00 202.62L180.20 208.38L173.80 208.38Z" fill="none" stroke="#32508a" stroke-width="1.4" stroke-linejoin="miter"/>
<path d="M180.85 203.54L184.05 209.30L177.65 209.30Z" fill="none" stroke="#32508a" stroke-width="1.4" stroke-linejoin="miter"/>
<path d="M184.69 204.47L187.89 210.23L181.49 210.23Z" fill="none" stroke="#32508a" stroke-width="1.4" stroke-linejoin="miter"/>
<path d="M188.54 205.39L191.74 211.15L185.34 211.15Z" fill="none" stroke="#32508a" stroke-width="1.4" stroke-linejoin="miter"/>
<path d="M192.38 206.31L195.58 212.07L189.18 212.07Z" fill="none" stroke="#32508a" stroke-width="1.4" stroke-linejoin="miter"/>
<path d="M196.23 207.24L199.43 213.00L193.03 213.00Z" fill="none" stroke="#32508a" stroke-width="1.4" stroke-linejoin="miter"/>
<path d="M200.08 208.16L203.28 213.92L196.88 213.92Z" fill="none" stroke="#32508a" stroke-width="1.4" stroke-linejoin="miter"/>
<path d="M203.92 208.16L207.12 213.92L200.72 213.92Z" fill="none" stroke="#32508a" stroke-width="1.4" stroke-linejoin="miter"/>
<path d="M207.77 207.24L210.97 213.00L204.57 213.00Z" fill="none" stroke="#32508a" stroke-width="1.4" stroke-linejoin="miter"/>
<path d="M211.62 206.31L214.82 212.07L208.42 212.07Z" fill="none" stroke="#32508a" stroke-width="1.4" stroke-linejoin="miter"/>
<path d="M215.46 205.39L218.66 211.15L212.26 211.15Z" fill="none" stroke="#32508a" stroke-width="1.4" stroke-linejoin="miter"/>
<path d="M219.31 204.47L222.51 210.23L216.11 210.23Z" fill="none" stroke="#32508a" stroke-width="1.4" stroke-linejoin="miter"/>
<path d="M223.15 203.54L226.35 209.30L219.95 209.30Z" fill="none" stroke="#32508a" stroke-width="1.4" stroke-linejoin="miter"/>
<path d="M227.00 202.62L230.20 208.38L223.80 208.38Z" fill="none" stroke="#32508a" stroke-width="1.4" stroke-linejoin="miter"/>
<path d="M179.50 211.82L182.70 217.58L176.30 217.58Z" fill="none" stroke="#32508a" stroke-width="1.4" stroke-linejoin="miter"/>
<path d="M184.50 213.58L187.70 219.34L181.30 219.34Z" fill="none" stroke="#32508a" stroke-width="1.4" stroke-linejoin="miter"/>
<path d="M189.50 215.33L192.70 221.09L186.30 221.09Z" fill="none" stroke="#32508a" stroke-width="1.4" stroke-linejoin="miter"/>
<path d="M194.50 217.09L197.70 222.85L191.30 222.85Z" fill="none" stroke="#32508a" stroke-width="1.4" stroke-linejoin="miter"/>
<path d="M199.50 218.84L202.70 224.60L196.30 224.60Z" fill="none" stroke="#32508a" stroke-width="1.4" stroke-linejoin="miter"/>
<path d="M204.50 218.84L207.70 224.60L201.30 224.60Z" fill="none" stroke="#32508a" stroke-width="1.4" stroke-linejoin="miter"/>
<path d="M209.50 217.09L212.70 222.85L206.30 222.85Z" fill="none" stroke="#32508a" stroke-width="1.4" stroke-linejoin="miter"/>
<path d="M214.50 215.33L217.70 221.09L211.30 221.09Z" fill="none" stroke="#32508a" stroke-width="1.4" stroke-linejoin="miter"/>
<path d="M219.50 213.58L222.70 219.34L216.30 219.34Z" fill="none" stroke="#32508a" stroke-width="1.4" stroke-linejoin="miter"/>
<path d="M224.50 211.82L227.70 217.58L221.30 217.58Z" fill="none" stroke="#32508a" stroke-width="1.4" stroke-linejoin="miter"/>
<path d="M185.20 222.62L188.40 228.38L182.00 228.38Z" fill="none" stroke="#32508a" stroke-width="1.4" stroke-linejoin="miter"/>
<path d="M193.10 226.22L196.30 231.98L189.90 231.98Z" fill="none" stroke="#32508a" stroke-width="1.4" stroke-linejoin="miter"/>
<path d="M197.90 229.12L201.10 234.88L194.70 234.88Z" fill="none" stroke="#32508a" stroke-width="1.4" stroke-linejoin="miter"/>
<path d="M202.20 229.12L205.40 234.88L199.00 234.88Z" fill="none" stroke="#32508a" stroke-width="1.4" stroke-linejoin="miter"/>
<path d="M210.40 226.22L213.60 231.98L207.20 231.98Z" fill="none" stroke="#32508a" stroke-width="1.4" stroke-linejoin="miter"/>
<path d="M219.10 225.52L222.30 231.28L215.90 231.28Z" fill="none" stroke="#32508a" stroke-width="1.4" stroke-linejoin="miter"/>
<path d="M206.10 237.82L209.30 243.58L202.90 243.58Z" fill="none" stroke="#32508a" stroke-width="1.4" stroke-linejoin="miter"/>
<path d="M202.30 247.12L205.50 252.88L199.10 252.88Z" fill="none" stroke="#32508a" stroke-width="1.4" stroke-linejoin="miter"/>
<line x1="172.20" y1="193.80" x2="232.00" y2="193.80" stroke="#000" stroke-width="2.2" />
<circle cx="378.20" cy="113.40" r="2.75" fill="none" stroke="#951b3d" stroke-width="1.5"/>
<circle cx="382.30" cy="150.00" r="2.75" fill="none" stroke="#951b3d" stroke-width="1.5"/>
<circle cx="373.50" cy="153.80" r="2.75" fill="none" stroke="#951b3d" stroke-width="1.5"/>
<circle cx="364.60" cy="161.20" r="2.75" fill="none" stroke="#951b3d" stroke-width="1.5"/>
<circle cx="373.50" cy="162.80" r="2.75" fill="none" stroke="#951b3d" stroke-width="1.5"/>
<circle cx="382.30" cy="163.80" r="2.75" fill="none" stroke="#951b3d" stroke-width="1.5"/>
<circle cx="391.10" cy="162.30" r="2.75" fill="none" stroke="#951b3d" stroke-width="1.5"/>
<circle cx="360.60" cy="168.40" r="2.75" fill="none" stroke="#951b3d" stroke-width="1.5"/>
<circle cx="395.20" cy="172.70" r="2.75" fill="none" stroke="#951b3d" stroke-width="1.5"/>
<circle cx="369.00" cy="175.20" r="2.75" fill="none" stroke="#951b3d" stroke-width="1.5"/>
<circle cx="377.90" cy="175.30" r="2.75" fill="none" stroke="#951b3d" stroke-width="1.5"/>
<circle cx="386.80" cy="175.40" r="2.75" fill="none" stroke="#951b3d" stroke-width="1.5"/>
<circle cx="358.10" cy="179.10" r="2.75" fill="none" stroke="#951b3d" stroke-width="1.5"/>
<circle cx="362.90" cy="179.80" r="2.75" fill="none" stroke="#951b3d" stroke-width="1.5"/>
<circle cx="373.70" cy="178.30" r="2.75" fill="none" stroke="#951b3d" stroke-width="1.5"/>
<circle cx="382.30" cy="178.80" r="2.75" fill="none" stroke="#951b3d" stroke-width="1.5"/>
<circle cx="392.70" cy="180.00" r="2.75" fill="none" stroke="#951b3d" stroke-width="1.5"/>
<circle cx="397.30" cy="179.80" r="2.75" fill="none" stroke="#951b3d" stroke-width="1.5"/>
<circle cx="367.30" cy="183.50" r="2.75" fill="none" stroke="#951b3d" stroke-width="1.5"/>
<circle cx="371.90" cy="184.60" r="2.75" fill="none" stroke="#951b3d" stroke-width="1.5"/>
<circle cx="375.60" cy="185.20" r="2.75" fill="none" stroke="#951b3d" stroke-width="1.5"/>
<circle cx="379.80" cy="185.50" r="2.75" fill="none" stroke="#951b3d" stroke-width="1.5"/>
<circle cx="384.00" cy="184.80" r="2.75" fill="none" stroke="#951b3d" stroke-width="1.5"/>
<circle cx="388.10" cy="184.00" r="2.75" fill="none" stroke="#951b3d" stroke-width="1.5"/>
<circle cx="355.80" cy="186.30" r="2.75" fill="none" stroke="#951b3d" stroke-width="1.5"/>
<circle cx="361.50" cy="187.50" r="2.75" fill="none" stroke="#951b3d" stroke-width="1.5"/>
<circle cx="395.00" cy="188.00" r="2.75" fill="none" stroke="#951b3d" stroke-width="1.5"/>
<circle cx="400.20" cy="187.20" r="2.75" fill="none" stroke="#951b3d" stroke-width="1.5"/>
<circle cx="367.10" cy="190.20" r="2.75" fill="none" stroke="#951b3d" stroke-width="1.5"/>
<circle cx="372.50" cy="192.70" r="2.75" fill="none" stroke="#951b3d" stroke-width="1.5"/>
<circle cx="377.90" cy="194.80" r="2.75" fill="none" stroke="#951b3d" stroke-width="1.5"/>
<circle cx="383.50" cy="192.90" r="2.75" fill="none" stroke="#951b3d" stroke-width="1.5"/>
<circle cx="389.00" cy="192.10" r="2.75" fill="none" stroke="#951b3d" stroke-width="1.5"/>
<circle cx="360.50" cy="199.70" r="2.75" fill="none" stroke="#951b3d" stroke-width="1.5"/>
<circle cx="369.20" cy="201.50" r="2.75" fill="none" stroke="#951b3d" stroke-width="1.5"/>
<circle cx="377.70" cy="204.30" r="2.75" fill="none" stroke="#951b3d" stroke-width="1.5"/>
<circle cx="386.20" cy="200.30" r="2.75" fill="none" stroke="#951b3d" stroke-width="1.5"/>
<circle cx="395.10" cy="198.80" r="2.75" fill="none" stroke="#951b3d" stroke-width="1.5"/>
<circle cx="373.50" cy="219.70" r="2.75" fill="none" stroke="#951b3d" stroke-width="1.5"/>
<circle cx="382.30" cy="218.20" r="2.75" fill="none" stroke="#951b3d" stroke-width="1.5"/>
<line x1="352.30" y1="181.60" x2="403.70" y2="181.60" stroke="#000" stroke-width="2.2" />
<path d="M455.70 82.62L458.90 88.38L452.50 88.38Z" fill="none" stroke="#32508a" stroke-width="1.4" stroke-linejoin="miter"/>
<path d="M455.70 97.52L458.90 103.28L452.50 103.28Z" fill="none" stroke="#32508a" stroke-width="1.4" stroke-linejoin="miter"/>
<path d="M434.20 112.42L437.40 118.18L431.00 118.18Z" fill="none" stroke="#32508a" stroke-width="1.4" stroke-linejoin="miter"/>
<path d="M442.80 116.42L446.00 122.18L439.60 122.18Z" fill="none" stroke="#32508a" stroke-width="1.4" stroke-linejoin="miter"/>
<path d="M451.50 119.82L454.70 125.58L448.30 125.58Z" fill="none" stroke="#32508a" stroke-width="1.4" stroke-linejoin="miter"/>
<path d="M460.00 114.92L463.20 120.68L456.80 120.68Z" fill="none" stroke="#32508a" stroke-width="1.4" stroke-linejoin="miter"/>
<path d="M464.60 120.12L467.80 125.88L461.40 125.88Z" fill="none" stroke="#32508a" stroke-width="1.4" stroke-linejoin="miter"/>
<path d="M473.10 117.22L476.30 122.98L469.90 122.98Z" fill="none" stroke="#32508a" stroke-width="1.4" stroke-linejoin="miter"/>
<path d="M442.80 126.32L446.00 132.08L439.60 132.08Z" fill="none" stroke="#32508a" stroke-width="1.4" stroke-linejoin="miter"/>
<path d="M451.50 128.72L454.70 134.48L448.30 134.48Z" fill="none" stroke="#32508a" stroke-width="1.4" stroke-linejoin="miter"/>
<path d="M460.00 127.82L463.20 133.58L456.80 133.58Z" fill="none" stroke="#32508a" stroke-width="1.4" stroke-linejoin="miter"/>
<path d="M468.90 125.92L472.10 131.68L465.70 131.68Z" fill="none" stroke="#32508a" stroke-width="1.4" stroke-linejoin="miter"/>
<path d="M433.80 131.82L437.00 137.58L430.60 137.58Z" fill="none" stroke="#32508a" stroke-width="1.4" stroke-linejoin="miter"/>
<path d="M439.35 135.10L442.55 140.86L436.15 140.86Z" fill="none" stroke="#32508a" stroke-width="1.4" stroke-linejoin="miter"/>
<path d="M444.90 137.44L448.10 143.20L441.70 143.20Z" fill="none" stroke="#32508a" stroke-width="1.4" stroke-linejoin="miter"/>
<path d="M450.45 138.85L453.65 144.61L447.25 144.61Z" fill="none" stroke="#32508a" stroke-width="1.4" stroke-linejoin="miter"/>
<path d="M456.00 139.32L459.20 145.08L452.80 145.08Z" fill="none" stroke="#32508a" stroke-width="1.4" stroke-linejoin="miter"/>
<path d="M461.55 138.85L464.75 144.61L458.35 144.61Z" fill="none" stroke="#32508a" stroke-width="1.4" stroke-linejoin="miter"/>
<path d="M467.10 137.44L470.30 143.20L463.90 143.20Z" fill="none" stroke="#32508a" stroke-width="1.4" stroke-linejoin="miter"/>
<path d="M472.65 135.10L475.85 140.86L469.45 140.86Z" fill="none" stroke="#32508a" stroke-width="1.4" stroke-linejoin="miter"/>
<path d="M478.20 131.82L481.40 137.58L475.00 137.58Z" fill="none" stroke="#32508a" stroke-width="1.4" stroke-linejoin="miter"/>
<path d="M432.00 139.62L435.20 145.38L428.80 145.38Z" fill="none" stroke="#32508a" stroke-width="1.4" stroke-linejoin="miter"/>
<path d="M436.00 140.70L439.20 146.46L432.80 146.46Z" fill="none" stroke="#32508a" stroke-width="1.4" stroke-linejoin="miter"/>
<path d="M440.00 141.67L443.20 147.43L436.80 147.43Z" fill="none" stroke="#32508a" stroke-width="1.4" stroke-linejoin="miter"/>
<path d="M444.00 142.53L447.20 148.29L440.80 148.29Z" fill="none" stroke="#32508a" stroke-width="1.4" stroke-linejoin="miter"/>
<path d="M448.00 143.25L451.20 149.01L444.80 149.01Z" fill="none" stroke="#32508a" stroke-width="1.4" stroke-linejoin="miter"/>
<path d="M452.00 143.81L455.20 149.57L448.80 149.57Z" fill="none" stroke="#32508a" stroke-width="1.4" stroke-linejoin="miter"/>
<path d="M456.00 144.12L459.20 149.88L452.80 149.88Z" fill="none" stroke="#32508a" stroke-width="1.4" stroke-linejoin="miter"/>
<path d="M460.00 143.81L463.20 149.57L456.80 149.57Z" fill="none" stroke="#32508a" stroke-width="1.4" stroke-linejoin="miter"/>
<path d="M464.00 143.25L467.20 149.01L460.80 149.01Z" fill="none" stroke="#32508a" stroke-width="1.4" stroke-linejoin="miter"/>
<path d="M468.00 142.53L471.20 148.29L464.80 148.29Z" fill="none" stroke="#32508a" stroke-width="1.4" stroke-linejoin="miter"/>
<path d="M472.00 141.67L475.20 147.43L468.80 147.43Z" fill="none" stroke="#32508a" stroke-width="1.4" stroke-linejoin="miter"/>
<path d="M476.00 140.70L479.20 146.46L472.80 146.46Z" fill="none" stroke="#32508a" stroke-width="1.4" stroke-linejoin="miter"/>
<path d="M480.00 139.62L483.20 145.38L476.80 145.38Z" fill="none" stroke="#32508a" stroke-width="1.4" stroke-linejoin="miter"/>
<path d="M431.50 144.62L434.70 150.38L428.30 150.38Z" fill="none" stroke="#32508a" stroke-width="1.4" stroke-linejoin="miter"/>
<path d="M435.27 145.62L438.47 151.38L432.07 151.38Z" fill="none" stroke="#32508a" stroke-width="1.4" stroke-linejoin="miter"/>
<path d="M439.04 146.53L442.24 152.29L435.84 152.29Z" fill="none" stroke="#32508a" stroke-width="1.4" stroke-linejoin="miter"/>
<path d="M442.81 147.34L446.01 153.10L439.61 153.10Z" fill="none" stroke="#32508a" stroke-width="1.4" stroke-linejoin="miter"/>
<path d="M446.58 148.05L449.78 153.81L443.38 153.81Z" fill="none" stroke="#32508a" stroke-width="1.4" stroke-linejoin="miter"/>
<path d="M450.35 148.62L453.55 154.38L447.15 154.38Z" fill="none" stroke="#32508a" stroke-width="1.4" stroke-linejoin="miter"/>
<path d="M454.12 149.02L457.32 154.78L450.92 154.78Z" fill="none" stroke="#32508a" stroke-width="1.4" stroke-linejoin="miter"/>
<path d="M457.88 149.02L461.08 154.78L454.68 154.78Z" fill="none" stroke="#32508a" stroke-width="1.4" stroke-linejoin="miter"/>
<path d="M461.65 148.62L464.85 154.38L458.45 154.38Z" fill="none" stroke="#32508a" stroke-width="1.4" stroke-linejoin="miter"/>
<path d="M465.42 148.05L468.62 153.81L462.22 153.81Z" fill="none" stroke="#32508a" stroke-width="1.4" stroke-linejoin="miter"/>
<path d="M469.19 147.34L472.39 153.10L465.99 153.10Z" fill="none" stroke="#32508a" stroke-width="1.4" stroke-linejoin="miter"/>
<path d="M472.96 146.53L476.16 152.29L469.76 152.29Z" fill="none" stroke="#32508a" stroke-width="1.4" stroke-linejoin="miter"/>
<path d="M476.73 145.62L479.93 151.38L473.53 151.38Z" fill="none" stroke="#32508a" stroke-width="1.4" stroke-linejoin="miter"/>
<path d="M480.50 144.62L483.70 150.38L477.30 150.38Z" fill="none" stroke="#32508a" stroke-width="1.4" stroke-linejoin="miter"/>
<path d="M431.50 149.62L434.70 155.38L428.30 155.38Z" fill="none" stroke="#32508a" stroke-width="1.4" stroke-linejoin="miter"/>
<path d="M435.27 150.51L438.47 156.27L432.07 156.27Z" fill="none" stroke="#32508a" stroke-width="1.4" stroke-linejoin="miter"/>
<path d="M439.04 151.32L442.24 157.08L435.84 157.08Z" fill="none" stroke="#32508a" stroke-width="1.4" stroke-linejoin="miter"/>
<path d="M442.81 152.04L446.01 157.80L439.61 157.80Z" fill="none" stroke="#32508a" stroke-width="1.4" stroke-linejoin="miter"/>
<path d="M446.58 152.67L449.78 158.43L443.38 158.43Z" fill="none" stroke="#32508a" stroke-width="1.4" stroke-linejoin="miter"/>
<path d="M450.35 153.18L453.55 158.94L447.15 158.94Z" fill="none" stroke="#32508a" stroke-width="1.4" stroke-linejoin="miter"/>
<path d="M454.12 153.53L457.32 159.29L450.92 159.29Z" fill="none" stroke="#32508a" stroke-width="1.4" stroke-linejoin="miter"/>
<path d="M457.88 153.53L461.08 159.29L454.68 159.29Z" fill="none" stroke="#32508a" stroke-width="1.4" stroke-linejoin="miter"/>
<path d="M461.65 153.18L464.85 158.94L458.45 158.94Z" fill="none" stroke="#32508a" stroke-width="1.4" stroke-linejoin="miter"/>
<path d="M465.42 152.67L468.62 158.43L462.22 158.43Z" fill="none" stroke="#32508a" stroke-width="1.4" stroke-linejoin="miter"/>
<path d="M469.19 152.04L472.39 157.80L465.99 157.80Z" fill="none" stroke="#32508a" stroke-width="1.4" stroke-linejoin="miter"/>
<path d="M472.96 151.32L476.16 157.08L469.76 157.08Z" fill="none" stroke="#32508a" stroke-width="1.4" stroke-linejoin="miter"/>
<path d="M476.73 150.51L479.93 156.27L473.53 156.27Z" fill="none" stroke="#32508a" stroke-width="1.4" stroke-linejoin="miter"/>
<path d="M480.50 149.62L483.70 155.38L477.30 155.38Z" fill="none" stroke="#32508a" stroke-width="1.4" stroke-linejoin="miter"/>
<path d="M431.50 159.12L434.70 164.88L428.30 164.88Z" fill="none" stroke="#32508a" stroke-width="1.4" stroke-linejoin="miter"/>
<path d="M435.27 159.67L438.47 165.43L432.07 165.43Z" fill="none" stroke="#32508a" stroke-width="1.4" stroke-linejoin="miter"/>
<path d="M439.04 160.18L442.24 165.94L435.84 165.94Z" fill="none" stroke="#32508a" stroke-width="1.4" stroke-linejoin="miter"/>
<path d="M442.81 160.63L446.01 166.39L439.61 166.39Z" fill="none" stroke="#32508a" stroke-width="1.4" stroke-linejoin="miter"/>
<path d="M446.58 161.02L449.78 166.78L443.38 166.78Z" fill="none" stroke="#32508a" stroke-width="1.4" stroke-linejoin="miter"/>
<path d="M450.35 161.34L453.55 167.10L447.15 167.10Z" fill="none" stroke="#32508a" stroke-width="1.4" stroke-linejoin="miter"/>
<path d="M454.12 161.57L457.32 167.33L450.92 167.33Z" fill="none" stroke="#32508a" stroke-width="1.4" stroke-linejoin="miter"/>
<path d="M457.88 161.57L461.08 167.33L454.68 167.33Z" fill="none" stroke="#32508a" stroke-width="1.4" stroke-linejoin="miter"/>
<path d="M461.65 161.34L464.85 167.10L458.45 167.10Z" fill="none" stroke="#32508a" stroke-width="1.4" stroke-linejoin="miter"/>
<path d="M465.42 161.02L468.62 166.78L462.22 166.78Z" fill="none" stroke="#32508a" stroke-width="1.4" stroke-linejoin="miter"/>
<path d="M469.19 160.63L472.39 166.39L465.99 166.39Z" fill="none" stroke="#32508a" stroke-width="1.4" stroke-linejoin="miter"/>
<path d="M472.96 160.18L476.16 165.94L469.76 165.94Z" fill="none" stroke="#32508a" stroke-width="1.4" stroke-linejoin="miter"/>
<path d="M476.73 159.67L479.93 165.43L473.53 165.43Z" fill="none" stroke="#32508a" stroke-width="1.4" stroke-linejoin="miter"/>
<path d="M480.50 159.12L483.70 164.88L477.30 164.88Z" fill="none" stroke="#32508a" stroke-width="1.4" stroke-linejoin="miter"/>
<path d="M432.50 163.12L435.70 168.88L429.30 168.88Z" fill="none" stroke="#32508a" stroke-width="1.4" stroke-linejoin="miter"/>
<path d="M436.12 164.01L439.32 169.77L432.92 169.77Z" fill="none" stroke="#32508a" stroke-width="1.4" stroke-linejoin="miter"/>
<path d="M439.73 164.82L442.93 170.58L436.53 170.58Z" fill="none" stroke="#32508a" stroke-width="1.4" stroke-linejoin="miter"/>
<path d="M443.35 165.54L446.55 171.30L440.15 171.30Z" fill="none" stroke="#32508a" stroke-width="1.4" stroke-linejoin="miter"/>
<path d="M446.96 166.17L450.16 171.93L443.76 171.93Z" fill="none" stroke="#32508a" stroke-width="1.4" stroke-linejoin="miter"/>
<path d="M450.58 166.68L453.78 172.44L447.38 172.44Z" fill="none" stroke="#32508a" stroke-width="1.4" stroke-linejoin="miter"/>
<path d="M454.19 167.03L457.39 172.79L450.99 172.79Z" fill="none" stroke="#32508a" stroke-width="1.4" stroke-linejoin="miter"/>
<path d="M457.81 167.03L461.01 172.79L454.61 172.79Z" fill="none" stroke="#32508a" stroke-width="1.4" stroke-linejoin="miter"/>
<path d="M461.42 166.68L464.62 172.44L458.22 172.44Z" fill="none" stroke="#32508a" stroke-width="1.4" stroke-linejoin="miter"/>
<path d="M465.04 166.17L468.24 171.93L461.84 171.93Z" fill="none" stroke="#32508a" stroke-width="1.4" stroke-linejoin="miter"/>
<path d="M468.65 165.54L471.85 171.30L465.45 171.30Z" fill="none" stroke="#32508a" stroke-width="1.4" stroke-linejoin="miter"/>
<path d="M472.27 164.82L475.47 170.58L469.07 170.58Z" fill="none" stroke="#32508a" stroke-width="1.4" stroke-linejoin="miter"/>
<path d="M475.88 164.01L479.08 169.77L472.68 169.77Z" fill="none" stroke="#32508a" stroke-width="1.4" stroke-linejoin="miter"/>
<path d="M479.50 163.12L482.70 168.88L476.30 168.88Z" fill="none" stroke="#32508a" stroke-width="1.4" stroke-linejoin="miter"/>
<path d="M436.00 167.62L439.20 173.38L432.80 173.38Z" fill="none" stroke="#32508a" stroke-width="1.4" stroke-linejoin="miter"/>
<path d="M439.64 168.79L442.84 174.55L436.44 174.55Z" fill="none" stroke="#32508a" stroke-width="1.4" stroke-linejoin="miter"/>
<path d="M443.27 169.84L446.47 175.60L440.07 175.60Z" fill="none" stroke="#32508a" stroke-width="1.4" stroke-linejoin="miter"/>
<path d="M446.91 170.74L450.11 176.50L443.71 176.50Z" fill="none" stroke="#32508a" stroke-width="1.4" stroke-linejoin="miter"/>
<path d="M450.55 171.48L453.75 177.24L447.35 177.24Z" fill="none" stroke="#32508a" stroke-width="1.4" stroke-linejoin="miter"/>
<path d="M454.18 172.00L457.38 177.76L450.98 177.76Z" fill="none" stroke="#32508a" stroke-width="1.4" stroke-linejoin="miter"/>
<path d="M457.82 172.00L461.02 177.76L454.62 177.76Z" fill="none" stroke="#32508a" stroke-width="1.4" stroke-linejoin="miter"/>
<path d="M461.45 171.48L464.65 177.24L458.25 177.24Z" fill="none" stroke="#32508a" stroke-width="1.4" stroke-linejoin="miter"/>
<path d="M465.09 170.74L468.29 176.50L461.89 176.50Z" fill="none" stroke="#32508a" stroke-width="1.4" stroke-linejoin="miter"/>
<path d="M468.73 169.84L471.93 175.60L465.53 175.60Z" fill="none" stroke="#32508a" stroke-width="1.4" stroke-linejoin="miter"/>
<path d="M472.36 168.79L475.56 174.55L469.16 174.55Z" fill="none" stroke="#32508a" stroke-width="1.4" stroke-linejoin="miter"/>
<path d="M476.00 167.62L479.20 173.38L472.80 173.38Z" fill="none" stroke="#32508a" stroke-width="1.4" stroke-linejoin="miter"/>
<path d="M443.00 172.12L446.20 177.88L439.80 177.88Z" fill="none" stroke="#32508a" stroke-width="1.4" stroke-linejoin="miter"/>
<path d="M446.71 173.90L449.91 179.66L443.51 179.66Z" fill="none" stroke="#32508a" stroke-width="1.4" stroke-linejoin="miter"/>
<path d="M450.43 175.36L453.63 181.12L447.23 181.12Z" fill="none" stroke="#32508a" stroke-width="1.4" stroke-linejoin="miter"/>
<path d="M454.14 176.38L457.34 182.14L450.94 182.14Z" fill="none" stroke="#32508a" stroke-width="1.4" stroke-linejoin="miter"/>
<path d="M457.86 176.38L461.06 182.14L454.66 182.14Z" fill="none" stroke="#32508a" stroke-width="1.4" stroke-linejoin="miter"/>
<path d="M461.57 175.36L464.77 181.12L458.37 181.12Z" fill="none" stroke="#32508a" stroke-width="1.4" stroke-linejoin="miter"/>
<path d="M465.29 173.90L468.49 179.66L462.09 179.66Z" fill="none" stroke="#32508a" stroke-width="1.4" stroke-linejoin="miter"/>
<path d="M469.00 172.12L472.20 177.88L465.80 177.88Z" fill="none" stroke="#32508a" stroke-width="1.4" stroke-linejoin="miter"/>
<path d="M436.90 183.12L440.10 188.88L433.70 188.88Z" fill="none" stroke="#32508a" stroke-width="1.4" stroke-linejoin="miter"/>
<path d="M442.30 183.62L445.50 189.38L439.10 189.38Z" fill="none" stroke="#32508a" stroke-width="1.4" stroke-linejoin="miter"/>
<path d="M447.70 185.62L450.90 191.38L444.50 191.38Z" fill="none" stroke="#32508a" stroke-width="1.4" stroke-linejoin="miter"/>
<path d="M452.30 183.62L455.50 189.38L449.10 189.38Z" fill="none" stroke="#32508a" stroke-width="1.4" stroke-linejoin="miter"/>
<path d="M456.90 186.72L460.10 192.48L453.70 192.48Z" fill="none" stroke="#32508a" stroke-width="1.4" stroke-linejoin="miter"/>
<path d="M461.50 184.12L464.70 189.88L458.30 189.88Z" fill="none" stroke="#32508a" stroke-width="1.4" stroke-linejoin="miter"/>
<path d="M466.20 185.12L469.40 190.88L463.00 190.88Z" fill="none" stroke="#32508a" stroke-width="1.4" stroke-linejoin="miter"/>
<path d="M469.80 183.62L473.00 189.38L466.60 189.38Z" fill="none" stroke="#32508a" stroke-width="1.4" stroke-linejoin="miter"/>
<path d="M474.60 183.12L477.80 188.88L471.40 188.88Z" fill="none" stroke="#32508a" stroke-width="1.4" stroke-linejoin="miter"/>
<path d="M453.10 188.32L456.30 194.08L449.90 194.08Z" fill="none" stroke="#32508a" stroke-width="1.4" stroke-linejoin="miter"/>
<path d="M458.50 187.52L461.70 193.28L455.30 193.28Z" fill="none" stroke="#32508a" stroke-width="1.4" stroke-linejoin="miter"/>
<path d="M464.60 192.12L467.80 197.88L461.40 197.88Z" fill="none" stroke="#32508a" stroke-width="1.4" stroke-linejoin="miter"/>
<path d="M447.40 196.72L450.60 202.48L444.20 202.48Z" fill="none" stroke="#32508a" stroke-width="1.4" stroke-linejoin="miter"/>
<path d="M455.70 199.02L458.90 204.78L452.50 204.78Z" fill="none" stroke="#32508a" stroke-width="1.4" stroke-linejoin="miter"/>
<path d="M455.70 207.82L458.90 213.58L452.50 213.58Z" fill="none" stroke="#32508a" stroke-width="1.4" stroke-linejoin="miter"/>
<path d="M455.70 218.32L458.90 224.08L452.50 224.08Z" fill="none" stroke="#32508a" stroke-width="1.4" stroke-linejoin="miter"/>
<path d="M455.70 238.62L458.90 244.38L452.50 244.38Z" fill="none" stroke="#32508a" stroke-width="1.4" stroke-linejoin="miter"/>
<line x1="430.00" y1="159.40" x2="481.50" y2="159.40" stroke="#000" stroke-width="2.2" />
<circle cx="114.80" cy="483.80" r="2.75" fill="none" stroke="#951b3d" stroke-width="1.5"/>
<circle cx="110.50" cy="518.50" r="2.75" fill="none" stroke="#951b3d" stroke-width="1.5"/>
<circle cx="119.20" cy="516.20" r="2.75" fill="none" stroke="#951b3d" stroke-width="1.5"/>
<circle cx="114.80" cy="536.60" r="2.75" fill="none" stroke="#951b3d" stroke-width="1.5"/>
<circle cx="110.50" cy="551.80" r="2.75" fill="none" stroke="#951b3d" stroke-width="1.5"/>
<circle cx="119.20" cy="549.20" r="2.75" fill="none" stroke="#951b3d" stroke-width="1.5"/>
<circle cx="88.50" cy="554.30" r="2.75" fill="none" stroke="#951b3d" stroke-width="1.5"/>
<circle cx="95.40" cy="558.50" r="2.75" fill="none" stroke="#951b3d" stroke-width="1.5"/>
<circle cx="103.10" cy="559.50" r="2.75" fill="none" stroke="#951b3d" stroke-width="1.5"/>
<circle cx="110.80" cy="561.50" r="2.75" fill="none" stroke="#951b3d" stroke-width="1.5"/>
<circle cx="118.80" cy="562.30" r="2.75" fill="none" stroke="#951b3d" stroke-width="1.5"/>
<circle cx="126.20" cy="561.50" r="2.75" fill="none" stroke="#951b3d" stroke-width="1.5"/>
<circle cx="133.80" cy="558.90" r="2.75" fill="none" stroke="#951b3d" stroke-width="1.5"/>
<circle cx="141.50" cy="557.70" r="2.75" fill="none" stroke="#951b3d" stroke-width="1.5"/>
<circle cx="87.70" cy="566.60" r="2.75" fill="none" stroke="#951b3d" stroke-width="1.5"/>
<circle cx="94.20" cy="567.70" r="2.75" fill="none" stroke="#951b3d" stroke-width="1.5"/>
<circle cx="100.00" cy="569.20" r="2.75" fill="none" stroke="#951b3d" stroke-width="1.5"/>
<circle cx="105.80" cy="571.80" r="2.75" fill="none" stroke="#951b3d" stroke-width="1.5"/>
<circle cx="112.00" cy="573.10" r="2.75" fill="none" stroke="#951b3d" stroke-width="1.5"/>
<circle cx="117.70" cy="572.30" r="2.75" fill="none" stroke="#951b3d" stroke-width="1.5"/>
<circle cx="123.80" cy="569.20" r="2.75" fill="none" stroke="#951b3d" stroke-width="1.5"/>
<circle cx="130.00" cy="568.50" r="2.75" fill="none" stroke="#951b3d" stroke-width="1.5"/>
<circle cx="136.20" cy="566.90" r="2.75" fill="none" stroke="#951b3d" stroke-width="1.5"/>
<circle cx="141.80" cy="564.20" r="2.75" fill="none" stroke="#951b3d" stroke-width="1.5"/>
<circle cx="88.00" cy="573.80" r="2.75" fill="none" stroke="#951b3d" stroke-width="1.5"/>
<circle cx="94.20" cy="576.20" r="2.75" fill="none" stroke="#951b3d" stroke-width="1.5"/>
<circle cx="100.00" cy="579.50" r="2.75" fill="none" stroke="#951b3d" stroke-width="1.5"/>
<circle cx="105.80" cy="580.50" r="2.75" fill="none" stroke="#951b3d" stroke-width="1.5"/>
<circle cx="112.00" cy="582.30" r="2.75" fill="none" stroke="#951b3d" stroke-width="1.5"/>
<circle cx="117.70" cy="582.60" r="2.75" fill="none" stroke="#951b3d" stroke-width="1.5"/>
<circle cx="123.80" cy="580.50" r="2.75" fill="none" stroke="#951b3d" stroke-width="1.5"/>
<circle cx="130.00" cy="579.50" r="2.75" fill="none" stroke="#951b3d" stroke-width="1.5"/>
<circle cx="136.20" cy="579.20" r="2.75" fill="none" stroke="#951b3d" stroke-width="1.5"/>
<circle cx="141.80" cy="575.40" r="2.75" fill="none" stroke="#951b3d" stroke-width="1.5"/>
<circle cx="136.20" cy="583.80" r="2.75" fill="none" stroke="#951b3d" stroke-width="1.5"/>
<circle cx="93.50" cy="585.40" r="2.75" fill="none" stroke="#951b3d" stroke-width="1.5"/>
<circle cx="101.80" cy="587.70" r="2.75" fill="none" stroke="#951b3d" stroke-width="1.5"/>
<circle cx="110.50" cy="591.50" r="2.75" fill="none" stroke="#951b3d" stroke-width="1.5"/>
<circle cx="119.20" cy="591.20" r="2.75" fill="none" stroke="#951b3d" stroke-width="1.5"/>
<circle cx="127.70" cy="587.70" r="2.75" fill="none" stroke="#951b3d" stroke-width="1.5"/>
<line x1="84.60" y1="566.20" x2="144.60" y2="566.20" stroke="#000" stroke-width="2.2" />
<path d="M206.20 373.02L209.40 378.78L203.00 378.78Z" fill="none" stroke="#32508a" stroke-width="1.4" stroke-linejoin="miter"/>
<path d="M206.20 401.62L209.40 407.38L203.00 407.38Z" fill="none" stroke="#32508a" stroke-width="1.4" stroke-linejoin="miter"/>
<path d="M206.20 450.12L209.40 455.88L203.00 455.88Z" fill="none" stroke="#32508a" stroke-width="1.4" stroke-linejoin="miter"/>
<path d="M210.90 485.82L214.10 491.58L207.70 491.58Z" fill="none" stroke="#32508a" stroke-width="1.4" stroke-linejoin="miter"/>
<path d="M201.70 495.02L204.90 500.78L198.50 500.78Z" fill="none" stroke="#32508a" stroke-width="1.4" stroke-linejoin="miter"/>
<path d="M201.70 515.42L204.90 521.18L198.50 521.18Z" fill="none" stroke="#32508a" stroke-width="1.4" stroke-linejoin="miter"/>
<path d="M210.40 519.12L213.60 524.88L207.20 524.88Z" fill="none" stroke="#32508a" stroke-width="1.4" stroke-linejoin="miter"/>
<path d="M219.00 530.72L222.20 536.48L215.80 536.48Z" fill="none" stroke="#32508a" stroke-width="1.4" stroke-linejoin="miter"/>
<path d="M188.80 533.82L192.00 539.58L185.60 539.58Z" fill="none" stroke="#32508a" stroke-width="1.4" stroke-linejoin="miter"/>
<path d="M197.00 536.52L200.20 542.28L193.80 542.28Z" fill="none" stroke="#32508a" stroke-width="1.4" stroke-linejoin="miter"/>
<path d="M210.40 536.52L213.60 542.28L207.20 542.28Z" fill="none" stroke="#32508a" stroke-width="1.4" stroke-linejoin="miter"/>
<path d="M201.70 542.02L204.90 547.78L198.50 547.78Z" fill="none" stroke="#32508a" stroke-width="1.4" stroke-linejoin="miter"/>
<path d="M210.40 544.62L213.60 550.38L207.20 550.38Z" fill="none" stroke="#32508a" stroke-width="1.4" stroke-linejoin="miter"/>
<path d="M201.70 542.12L204.90 547.88L198.50 547.88Z" fill="none" stroke="#32508a" stroke-width="1.4" stroke-linejoin="miter"/>
<path d="M210.40 545.82L213.60 551.58L207.20 551.58Z" fill="none" stroke="#32508a" stroke-width="1.4" stroke-linejoin="miter"/>
<path d="M179.50 548.62L182.70 554.38L176.30 554.38Z" fill="none" stroke="#32508a" stroke-width="1.4" stroke-linejoin="miter"/>
<path d="M182.81 549.66L186.01 555.42L179.61 555.42Z" fill="none" stroke="#32508a" stroke-width="1.4" stroke-linejoin="miter"/>
<path d="M186.12 550.66L189.32 556.42L182.93 556.42Z" fill="none" stroke="#32508a" stroke-width="1.4" stroke-linejoin="miter"/>
<path d="M189.44 551.64L192.64 557.40L186.24 557.40Z" fill="none" stroke="#32508a" stroke-width="1.4" stroke-linejoin="miter"/>
<path d="M192.75 552.57L195.95 558.33L189.55 558.33Z" fill="none" stroke="#32508a" stroke-width="1.4" stroke-linejoin="miter"/>
<path d="M196.06 553.46L199.26 559.22L192.86 559.22Z" fill="none" stroke="#32508a" stroke-width="1.4" stroke-linejoin="miter"/>
<path d="M199.38 554.29L202.57 560.05L196.18 560.05Z" fill="none" stroke="#32508a" stroke-width="1.4" stroke-linejoin="miter"/>
<path d="M202.69 555.04L205.89 560.80L199.49 560.80Z" fill="none" stroke="#32508a" stroke-width="1.4" stroke-linejoin="miter"/>
<path d="M206.00 555.62L209.20 561.38L202.80 561.38Z" fill="none" stroke="#32508a" stroke-width="1.4" stroke-linejoin="miter"/>
<path d="M209.31 555.04L212.51 560.80L206.11 560.80Z" fill="none" stroke="#32508a" stroke-width="1.4" stroke-linejoin="miter"/>
<path d="M212.62 554.29L215.82 560.05L209.43 560.05Z" fill="none" stroke="#32508a" stroke-width="1.4" stroke-linejoin="miter"/>
<path d="M215.94 553.46L219.14 559.22L212.74 559.22Z" fill="none" stroke="#32508a" stroke-width="1.4" stroke-linejoin="miter"/>
<path d="M219.25 552.57L222.45 558.33L216.05 558.33Z" fill="none" stroke="#32508a" stroke-width="1.4" stroke-linejoin="miter"/>
<path d="M222.56 551.64L225.76 557.40L219.36 557.40Z" fill="none" stroke="#32508a" stroke-width="1.4" stroke-linejoin="miter"/>
<path d="M225.88 550.66L229.07 556.42L222.68 556.42Z" fill="none" stroke="#32508a" stroke-width="1.4" stroke-linejoin="miter"/>
<path d="M229.19 549.66L232.39 555.42L225.99 555.42Z" fill="none" stroke="#32508a" stroke-width="1.4" stroke-linejoin="miter"/>
<path d="M232.50 548.62L235.70 554.38L229.30 554.38Z" fill="none" stroke="#32508a" stroke-width="1.4" stroke-linejoin="miter"/>
<path d="M179.50 559.62L182.70 565.38L176.30 565.38Z" fill="none" stroke="#32508a" stroke-width="1.4" stroke-linejoin="miter"/>
<path d="M182.81 560.06L186.01 565.82L179.61 565.82Z" fill="none" stroke="#32508a" stroke-width="1.4" stroke-linejoin="miter"/>
<path d="M186.12 560.50L189.32 566.26L182.93 566.26Z" fill="none" stroke="#32508a" stroke-width="1.4" stroke-linejoin="miter"/>
<path d="M189.44 560.91L192.64 566.67L186.24 566.67Z" fill="none" stroke="#32508a" stroke-width="1.4" stroke-linejoin="miter"/>
<path d="M192.75 561.31L195.95 567.07L189.55 567.07Z" fill="none" stroke="#32508a" stroke-width="1.4" stroke-linejoin="miter"/>
<path d="M196.06 561.70L199.26 567.46L192.86 567.46Z" fill="none" stroke="#32508a" stroke-width="1.4" stroke-linejoin="miter"/>
<path d="M199.38 562.05L202.57 567.81L196.18 567.81Z" fill="none" stroke="#32508a" stroke-width="1.4" stroke-linejoin="miter"/>
<path d="M202.69 562.37L205.89 568.13L199.49 568.13Z" fill="none" stroke="#32508a" stroke-width="1.4" stroke-linejoin="miter"/>
<path d="M206.00 562.62L209.20 568.38L202.80 568.38Z" fill="none" stroke="#32508a" stroke-width="1.4" stroke-linejoin="miter"/>
<path d="M209.31 562.37L212.51 568.13L206.11 568.13Z" fill="none" stroke="#32508a" stroke-width="1.4" stroke-linejoin="miter"/>
<path d="M212.62 562.05L215.82 567.81L209.43 567.81Z" fill="none" stroke="#32508a" stroke-width="1.4" stroke-linejoin="miter"/>
<path d="M215.94 561.70L219.14 567.46L212.74 567.46Z" fill="none" stroke="#32508a" stroke-width="1.4" stroke-linejoin="miter"/>
<path d="M219.25 561.31L222.45 567.07L216.05 567.07Z" fill="none" stroke="#32508a" stroke-width="1.4" stroke-linejoin="miter"/>
<path d="M222.56 560.91L225.76 566.67L219.36 566.67Z" fill="none" stroke="#32508a" stroke-width="1.4" stroke-linejoin="miter"/>
<path d="M225.88 560.50L229.07 566.26L222.68 566.26Z" fill="none" stroke="#32508a" stroke-width="1.4" stroke-linejoin="miter"/>
<path d="M229.19 560.06L232.39 565.82L225.99 565.82Z" fill="none" stroke="#32508a" stroke-width="1.4" stroke-linejoin="miter"/>
<path d="M232.50 559.62L235.70 565.38L229.30 565.38Z" fill="none" stroke="#32508a" stroke-width="1.4" stroke-linejoin="miter"/>
<path d="M179.50 568.12L182.70 573.88L176.30 573.88Z" fill="none" stroke="#32508a" stroke-width="1.4" stroke-linejoin="miter"/>
<path d="M182.81 568.64L186.01 574.40L179.61 574.40Z" fill="none" stroke="#32508a" stroke-width="1.4" stroke-linejoin="miter"/>
<path d="M186.12 569.14L189.32 574.90L182.93 574.90Z" fill="none" stroke="#32508a" stroke-width="1.4" stroke-linejoin="miter"/>
<path d="M189.44 569.63L192.64 575.39L186.24 575.39Z" fill="none" stroke="#32508a" stroke-width="1.4" stroke-linejoin="miter"/>
<path d="M192.75 570.10L195.95 575.86L189.55 575.86Z" fill="none" stroke="#32508a" stroke-width="1.4" stroke-linejoin="miter"/>
<path d="M196.06 570.54L199.26 576.30L192.86 576.30Z" fill="none" stroke="#32508a" stroke-width="1.4" stroke-linejoin="miter"/>
<path d="M199.38 570.96L202.57 576.72L196.18 576.72Z" fill="none" stroke="#32508a" stroke-width="1.4" stroke-linejoin="miter"/>
<path d="M202.69 571.33L205.89 577.09L199.49 577.09Z" fill="none" stroke="#32508a" stroke-width="1.4" stroke-linejoin="miter"/>
<path d="M206.00 571.62L209.20 577.38L202.80 577.38Z" fill="none" stroke="#32508a" stroke-width="1.4" stroke-linejoin="miter"/>
<path d="M209.31 571.33L212.51 577.09L206.11 577.09Z" fill="none" stroke="#32508a" stroke-width="1.4" stroke-linejoin="miter"/>
<path d="M212.62 570.96L215.82 576.72L209.43 576.72Z" fill="none" stroke="#32508a" stroke-width="1.4" stroke-linejoin="miter"/>
<path d="M215.94 570.54L219.14 576.30L212.74 576.30Z" fill="none" stroke="#32508a" stroke-width="1.4" stroke-linejoin="miter"/>
<path d="M219.25 570.10L222.45 575.86L216.05 575.86Z" fill="none" stroke="#32508a" stroke-width="1.4" stroke-linejoin="miter"/>
<path d="M222.56 569.63L225.76 575.39L219.36 575.39Z" fill="none" stroke="#32508a" stroke-width="1.4" stroke-linejoin="miter"/>
<path d="M225.88 569.14L229.07 574.90L222.68 574.90Z" fill="none" stroke="#32508a" stroke-width="1.4" stroke-linejoin="miter"/>
<path d="M229.19 568.64L232.39 574.40L225.99 574.40Z" fill="none" stroke="#32508a" stroke-width="1.4" stroke-linejoin="miter"/>
<path d="M232.50 568.12L235.70 573.88L229.30 573.88Z" fill="none" stroke="#32508a" stroke-width="1.4" stroke-linejoin="miter"/>
<path d="M179.50 573.62L182.70 579.38L176.30 579.38Z" fill="none" stroke="#32508a" stroke-width="1.4" stroke-linejoin="miter"/>
<path d="M182.81 574.21L186.01 579.97L179.61 579.97Z" fill="none" stroke="#32508a" stroke-width="1.4" stroke-linejoin="miter"/>
<path d="M186.12 574.79L189.32 580.55L182.93 580.55Z" fill="none" stroke="#32508a" stroke-width="1.4" stroke-linejoin="miter"/>
<path d="M189.44 575.34L192.64 581.10L186.24 581.10Z" fill="none" stroke="#32508a" stroke-width="1.4" stroke-linejoin="miter"/>
<path d="M192.75 575.88L195.95 581.64L189.55 581.64Z" fill="none" stroke="#32508a" stroke-width="1.4" stroke-linejoin="miter"/>
<path d="M196.06 576.39L199.26 582.15L192.86 582.15Z" fill="none" stroke="#32508a" stroke-width="1.4" stroke-linejoin="miter"/>
<path d="M199.38 576.86L202.57 582.62L196.18 582.62Z" fill="none" stroke="#32508a" stroke-width="1.4" stroke-linejoin="miter"/>
<path d="M202.69 577.29L205.89 583.05L199.49 583.05Z" fill="none" stroke="#32508a" stroke-width="1.4" stroke-linejoin="miter"/>
<path d="M206.00 577.62L209.20 583.38L202.80 583.38Z" fill="none" stroke="#32508a" stroke-width="1.4" stroke-linejoin="miter"/>
<path d="M209.31 577.29L212.51 583.05L206.11 583.05Z" fill="none" stroke="#32508a" stroke-width="1.4" stroke-linejoin="miter"/>
<path d="M212.62 576.86L215.82 582.62L209.43 582.62Z" fill="none" stroke="#32508a" stroke-width="1.4" stroke-linejoin="miter"/>
<path d="M215.94 576.39L219.14 582.15L212.74 582.15Z" fill="none" stroke="#32508a" stroke-width="1.4" stroke-linejoin="miter"/>
<path d="M219.25 575.88L222.45 581.64L216.05 581.64Z" fill="none" stroke="#32508a" stroke-width="1.4" stroke-linejoin="miter"/>
<path d="M222.56 575.34L225.76 581.10L219.36 581.10Z" fill="none" stroke="#32508a" stroke-width="1.4" stroke-linejoin="miter"/>
<path d="M225.88 574.79L229.07 580.55L222.68 580.55Z" fill="none" stroke="#32508a" stroke-width="1.4" stroke-linejoin="miter"/>
<path d="M229.19 574.21L232.39 579.97L225.99 579.97Z" fill="none" stroke="#32508a" stroke-width="1.4" stroke-linejoin="miter"/>
<path d="M232.50 573.62L235.70 579.38L229.30 579.38Z" fill="none" stroke="#32508a" stroke-width="1.4" stroke-linejoin="miter"/>
<path d="M179.50 579.12L182.70 584.88L176.30 584.88Z" fill="none" stroke="#32508a" stroke-width="1.4" stroke-linejoin="miter"/>
<path d="M182.81 579.79L186.01 585.55L179.61 585.55Z" fill="none" stroke="#32508a" stroke-width="1.4" stroke-linejoin="miter"/>
<path d="M186.12 580.43L189.32 586.19L182.93 586.19Z" fill="none" stroke="#32508a" stroke-width="1.4" stroke-linejoin="miter"/>
<path d="M189.44 581.06L192.64 586.82L186.24 586.82Z" fill="none" stroke="#32508a" stroke-width="1.4" stroke-linejoin="miter"/>
<path d="M192.75 581.66L195.95 587.42L189.55 587.42Z" fill="none" stroke="#32508a" stroke-width="1.4" stroke-linejoin="miter"/>
<path d="M196.06 582.23L199.26 587.99L192.86 587.99Z" fill="none" stroke="#32508a" stroke-width="1.4" stroke-linejoin="miter"/>
<path d="M199.38 582.77L202.57 588.53L196.18 588.53Z" fill="none" stroke="#32508a" stroke-width="1.4" stroke-linejoin="miter"/>
<path d="M202.69 583.25L205.89 589.01L199.49 589.01Z" fill="none" stroke="#32508a" stroke-width="1.4" stroke-linejoin="miter"/>
<path d="M206.00 583.62L209.20 589.38L202.80 589.38Z" fill="none" stroke="#32508a" stroke-width="1.4" stroke-linejoin="miter"/>
<path d="M209.31 583.25L212.51 589.01L206.11 589.01Z" fill="none" stroke="#32508a" stroke-width="1.4" stroke-linejoin="miter"/>
<path d="M212.62 582.77L215.82 588.53L209.43 588.53Z" fill="none" stroke="#32508a" stroke-width="1.4" stroke-linejoin="miter"/>
<path d="M215.94 582.23L219.14 587.99L212.74 587.99Z" fill="none" stroke="#32508a" stroke-width="1.4" stroke-linejoin="miter"/>
<path d="M219.25 581.66L222.45 587.42L216.05 587.42Z" fill="none" stroke="#32508a" stroke-width="1.4" stroke-linejoin="miter"/>
<path d="M222.56 581.06L225.76 586.82L219.36 586.82Z" fill="none" stroke="#32508a" stroke-width="1.4" stroke-linejoin="miter"/>
<path d="M225.88 580.43L229.07 586.19L222.68 586.19Z" fill="none" stroke="#32508a" stroke-width="1.4" stroke-linejoin="miter"/>
<path d="M229.19 579.79L232.39 585.55L225.99 585.55Z" fill="none" stroke="#32508a" stroke-width="1.4" stroke-linejoin="miter"/>
<path d="M232.50 579.12L235.70 584.88L229.30 584.88Z" fill="none" stroke="#32508a" stroke-width="1.4" stroke-linejoin="miter"/>
<path d="M179.50 586.12L182.70 591.88L176.30 591.88Z" fill="none" stroke="#32508a" stroke-width="1.4" stroke-linejoin="miter"/>
<path d="M182.81 587.45L186.01 593.21L179.61 593.21Z" fill="none" stroke="#32508a" stroke-width="1.4" stroke-linejoin="miter"/>
<path d="M186.12 588.75L189.32 594.51L182.93 594.51Z" fill="none" stroke="#32508a" stroke-width="1.4" stroke-linejoin="miter"/>
<path d="M189.44 590.00L192.64 595.76L186.24 595.76Z" fill="none" stroke="#32508a" stroke-width="1.4" stroke-linejoin="miter"/>
<path d="M192.75 591.20L195.95 596.96L189.55 596.96Z" fill="none" stroke="#32508a" stroke-width="1.4" stroke-linejoin="miter"/>
<path d="M196.06 592.35L199.26 598.11L192.86 598.11Z" fill="none" stroke="#32508a" stroke-width="1.4" stroke-linejoin="miter"/>
<path d="M199.38 593.41L202.57 599.17L196.18 599.17Z" fill="none" stroke="#32508a" stroke-width="1.4" stroke-linejoin="miter"/>
<path d="M202.69 594.38L205.89 600.14L199.49 600.14Z" fill="none" stroke="#32508a" stroke-width="1.4" stroke-linejoin="miter"/>
<path d="M206.00 595.12L209.20 600.88L202.80 600.88Z" fill="none" stroke="#32508a" stroke-width="1.4" stroke-linejoin="miter"/>
<path d="M209.31 594.38L212.51 600.14L206.11 600.14Z" fill="none" stroke="#32508a" stroke-width="1.4" stroke-linejoin="miter"/>
<path d="M212.62 593.41L215.82 599.17L209.43 599.17Z" fill="none" stroke="#32508a" stroke-width="1.4" stroke-linejoin="miter"/>
<path d="M215.94 592.35L219.14 598.11L212.74 598.11Z" fill="none" stroke="#32508a" stroke-width="1.4" stroke-linejoin="miter"/>
<path d="M219.25 591.20L222.45 596.96L216.05 596.96Z" fill="none" stroke="#32508a" stroke-width="1.4" stroke-linejoin="miter"/>
<path d="M222.56 590.00L225.76 595.76L219.36 595.76Z" fill="none" stroke="#32508a" stroke-width="1.4" stroke-linejoin="miter"/>
<path d="M225.88 588.75L229.07 594.51L222.68 594.51Z" fill="none" stroke="#32508a" stroke-width="1.4" stroke-linejoin="miter"/>
<path d="M229.19 587.45L232.39 593.21L225.99 593.21Z" fill="none" stroke="#32508a" stroke-width="1.4" stroke-linejoin="miter"/>
<path d="M232.50 586.12L235.70 591.88L229.30 591.88Z" fill="none" stroke="#32508a" stroke-width="1.4" stroke-linejoin="miter"/>
<line x1="176.50" y1="568.80" x2="236.30" y2="568.80" stroke="#000" stroke-width="2.2" />
<circle cx="378.50" cy="508.50" r="2.75" fill="none" stroke="#951b3d" stroke-width="1.5"/>
<circle cx="386.90" cy="558.50" r="2.75" fill="none" stroke="#951b3d" stroke-width="1.5"/>
<circle cx="369.50" cy="562.80" r="2.75" fill="none" stroke="#951b3d" stroke-width="1.5"/>
<circle cx="378.20" cy="566.50" r="2.75" fill="none" stroke="#951b3d" stroke-width="1.5"/>
<circle cx="360.80" cy="568.90" r="2.75" fill="none" stroke="#951b3d" stroke-width="1.5"/>
<circle cx="395.70" cy="571.10" r="2.75" fill="none" stroke="#951b3d" stroke-width="1.5"/>
<circle cx="369.50" cy="572.00" r="2.75" fill="none" stroke="#951b3d" stroke-width="1.5"/>
<circle cx="386.90" cy="573.50" r="2.75" fill="none" stroke="#951b3d" stroke-width="1.5"/>
<circle cx="378.20" cy="575.40" r="2.75" fill="none" stroke="#951b3d" stroke-width="1.5"/>
<circle cx="357.80" cy="590.20" r="2.75" fill="none" stroke="#951b3d" stroke-width="1.5"/>
<circle cx="362.50" cy="592.20" r="2.75" fill="none" stroke="#951b3d" stroke-width="1.5"/>
<circle cx="367.20" cy="593.60" r="2.75" fill="none" stroke="#951b3d" stroke-width="1.5"/>
<circle cx="371.90" cy="594.90" r="2.75" fill="none" stroke="#951b3d" stroke-width="1.5"/>
<circle cx="375.70" cy="597.60" r="2.75" fill="none" stroke="#951b3d" stroke-width="1.5"/>
<circle cx="380.30" cy="597.60" r="2.75" fill="none" stroke="#951b3d" stroke-width="1.5"/>
<circle cx="384.70" cy="594.90" r="2.75" fill="none" stroke="#951b3d" stroke-width="1.5"/>
<circle cx="389.40" cy="593.60" r="2.75" fill="none" stroke="#951b3d" stroke-width="1.5"/>
<circle cx="393.70" cy="592.20" r="2.75" fill="none" stroke="#951b3d" stroke-width="1.5"/>
<circle cx="398.20" cy="590.20" r="2.75" fill="none" stroke="#951b3d" stroke-width="1.5"/>
<circle cx="355.00" cy="579.50" r="2.75" fill="none" stroke="#951b3d" stroke-width="1.5"/>
<circle cx="358.62" cy="580.72" r="2.75" fill="none" stroke="#951b3d" stroke-width="1.5"/>
<circle cx="362.23" cy="581.83" r="2.75" fill="none" stroke="#951b3d" stroke-width="1.5"/>
<circle cx="365.85" cy="582.83" r="2.75" fill="none" stroke="#951b3d" stroke-width="1.5"/>
<circle cx="369.46" cy="583.69" r="2.75" fill="none" stroke="#951b3d" stroke-width="1.5"/>
<circle cx="373.08" cy="584.39" r="2.75" fill="none" stroke="#951b3d" stroke-width="1.5"/>
<circle cx="376.69" cy="584.88" r="2.75" fill="none" stroke="#951b3d" stroke-width="1.5"/>
<circle cx="380.31" cy="584.88" r="2.75" fill="none" stroke="#951b3d" stroke-width="1.5"/>
<circle cx="383.92" cy="584.39" r="2.75" fill="none" stroke="#951b3d" stroke-width="1.5"/>
<circle cx="387.54" cy="583.69" r="2.75" fill="none" stroke="#951b3d" stroke-width="1.5"/>
<circle cx="391.15" cy="582.83" r="2.75" fill="none" stroke="#951b3d" stroke-width="1.5"/>
<circle cx="394.77" cy="581.83" r="2.75" fill="none" stroke="#951b3d" stroke-width="1.5"/>
<circle cx="398.38" cy="580.72" r="2.75" fill="none" stroke="#951b3d" stroke-width="1.5"/>
<circle cx="402.00" cy="579.50" r="2.75" fill="none" stroke="#951b3d" stroke-width="1.5"/>
<circle cx="359.50" cy="582.50" r="2.75" fill="none" stroke="#951b3d" stroke-width="1.5"/>
<circle cx="363.30" cy="584.21" r="2.75" fill="none" stroke="#951b3d" stroke-width="1.5"/>
<circle cx="367.10" cy="585.71" r="2.75" fill="none" stroke="#951b3d" stroke-width="1.5"/>
<circle cx="370.90" cy="586.98" r="2.75" fill="none" stroke="#951b3d" stroke-width="1.5"/>
<circle cx="374.70" cy="587.96" r="2.75" fill="none" stroke="#951b3d" stroke-width="1.5"/>
<circle cx="378.50" cy="588.50" r="2.75" fill="none" stroke="#951b3d" stroke-width="1.5"/>
<circle cx="382.30" cy="587.96" r="2.75" fill="none" stroke="#951b3d" stroke-width="1.5"/>
<circle cx="386.10" cy="586.98" r="2.75" fill="none" stroke="#951b3d" stroke-width="1.5"/>
<circle cx="389.90" cy="585.71" r="2.75" fill="none" stroke="#951b3d" stroke-width="1.5"/>
<circle cx="393.70" cy="584.21" r="2.75" fill="none" stroke="#951b3d" stroke-width="1.5"/>
<circle cx="397.50" cy="582.50" r="2.75" fill="none" stroke="#951b3d" stroke-width="1.5"/>
<line x1="352.40" y1="582.60" x2="404.20" y2="582.60" stroke="#000" stroke-width="2.2" />
<line x1="328.7" y1="525.1" x2="511" y2="525.1" stroke="#6a9646" stroke-width="1.7" stroke-dasharray="1.7 1.6"/>
<path d="M461.20 378.62L464.40 384.38L458.00 384.38Z" fill="none" stroke="#32508a" stroke-width="1.4" stroke-linejoin="miter"/>
<path d="M452.60 386.02L455.80 391.78L449.40 391.78Z" fill="none" stroke="#32508a" stroke-width="1.4" stroke-linejoin="miter"/>
<path d="M456.90 418.92L460.10 424.68L453.70 424.68Z" fill="none" stroke="#32508a" stroke-width="1.4" stroke-linejoin="miter"/>
<path d="M456.90 490.32L460.10 496.08L453.70 496.08Z" fill="none" stroke="#32508a" stroke-width="1.4" stroke-linejoin="miter"/>
<path d="M443.80 517.92L447.00 523.68L440.60 523.68Z" fill="none" stroke="#32508a" stroke-width="1.4" stroke-linejoin="miter"/>
<path d="M443.10 519.92L446.30 525.68L439.90 525.68Z" fill="none" stroke="#32508a" stroke-width="1.4" stroke-linejoin="miter"/>
<path d="M452.60 521.42L455.80 527.18L449.40 527.18Z" fill="none" stroke="#32508a" stroke-width="1.4" stroke-linejoin="miter"/>
<path d="M461.20 521.72L464.40 527.48L458.00 527.48Z" fill="none" stroke="#32508a" stroke-width="1.4" stroke-linejoin="miter"/>
<path d="M470.00 520.92L473.20 526.68L466.80 526.68Z" fill="none" stroke="#32508a" stroke-width="1.4" stroke-linejoin="miter"/>
<path d="M448.50 531.32L451.70 537.08L445.30 537.08Z" fill="none" stroke="#32508a" stroke-width="1.4" stroke-linejoin="miter"/>
<path d="M456.90 537.42L460.10 543.18L453.70 543.18Z" fill="none" stroke="#32508a" stroke-width="1.4" stroke-linejoin="miter"/>
<path d="M465.80 535.62L469.00 541.38L462.60 541.38Z" fill="none" stroke="#32508a" stroke-width="1.4" stroke-linejoin="miter"/>
<path d="M435.10 544.52L438.30 550.28L431.90 550.28Z" fill="none" stroke="#32508a" stroke-width="1.4" stroke-linejoin="miter"/>
<path d="M443.80 546.02L447.00 551.78L440.60 551.78Z" fill="none" stroke="#32508a" stroke-width="1.4" stroke-linejoin="miter"/>
<path d="M452.60 546.62L455.80 552.38L449.40 552.38Z" fill="none" stroke="#32508a" stroke-width="1.4" stroke-linejoin="miter"/>
<path d="M461.20 546.62L464.40 552.38L458.00 552.38Z" fill="none" stroke="#32508a" stroke-width="1.4" stroke-linejoin="miter"/>
<path d="M470.00 546.02L473.20 551.78L466.80 551.78Z" fill="none" stroke="#32508a" stroke-width="1.4" stroke-linejoin="miter"/>
<path d="M478.50 544.52L481.70 550.28L475.30 550.28Z" fill="none" stroke="#32508a" stroke-width="1.4" stroke-linejoin="miter"/>
<path d="M479.70 549.42L482.90 555.18L476.50 555.18Z" fill="none" stroke="#32508a" stroke-width="1.4" stroke-linejoin="miter"/>
<path d="M433.50 553.62L436.70 559.38L430.30 559.38Z" fill="none" stroke="#32508a" stroke-width="1.4" stroke-linejoin="miter"/>
<path d="M440.21 555.73L443.41 561.49L437.01 561.49Z" fill="none" stroke="#32508a" stroke-width="1.4" stroke-linejoin="miter"/>
<path d="M446.93 557.13L450.13 562.89L443.73 562.89Z" fill="none" stroke="#32508a" stroke-width="1.4" stroke-linejoin="miter"/>
<path d="M453.64 557.83L456.84 563.59L450.44 563.59Z" fill="none" stroke="#32508a" stroke-width="1.4" stroke-linejoin="miter"/>
<path d="M460.36 557.83L463.56 563.59L457.16 563.59Z" fill="none" stroke="#32508a" stroke-width="1.4" stroke-linejoin="miter"/>
<path d="M467.07 557.13L470.27 562.89L463.87 562.89Z" fill="none" stroke="#32508a" stroke-width="1.4" stroke-linejoin="miter"/>
<path d="M473.79 555.73L476.99 561.49L470.59 561.49Z" fill="none" stroke="#32508a" stroke-width="1.4" stroke-linejoin="miter"/>
<path d="M480.50 553.62L483.70 559.38L477.30 559.38Z" fill="none" stroke="#32508a" stroke-width="1.4" stroke-linejoin="miter"/>
<path d="M433.50 558.62L436.70 564.38L430.30 564.38Z" fill="none" stroke="#32508a" stroke-width="1.4" stroke-linejoin="miter"/>
<path d="M438.20 559.70L441.40 565.46L435.00 565.46Z" fill="none" stroke="#32508a" stroke-width="1.4" stroke-linejoin="miter"/>
<path d="M442.90 560.54L446.10 566.30L439.70 566.30Z" fill="none" stroke="#32508a" stroke-width="1.4" stroke-linejoin="miter"/>
<path d="M447.60 561.14L450.80 566.90L444.40 566.90Z" fill="none" stroke="#32508a" stroke-width="1.4" stroke-linejoin="miter"/>
<path d="M452.30 561.50L455.50 567.26L449.10 567.26Z" fill="none" stroke="#32508a" stroke-width="1.4" stroke-linejoin="miter"/>
<path d="M457.00 561.62L460.20 567.38L453.80 567.38Z" fill="none" stroke="#32508a" stroke-width="1.4" stroke-linejoin="miter"/>
<path d="M461.70 561.50L464.90 567.26L458.50 567.26Z" fill="none" stroke="#32508a" stroke-width="1.4" stroke-linejoin="miter"/>
<path d="M466.40 561.14L469.60 566.90L463.20 566.90Z" fill="none" stroke="#32508a" stroke-width="1.4" stroke-linejoin="miter"/>
<path d="M471.10 560.54L474.30 566.30L467.90 566.30Z" fill="none" stroke="#32508a" stroke-width="1.4" stroke-linejoin="miter"/>
<path d="M475.80 559.70L479.00 565.46L472.60 565.46Z" fill="none" stroke="#32508a" stroke-width="1.4" stroke-linejoin="miter"/>
<path d="M480.50 558.62L483.70 564.38L477.30 564.38Z" fill="none" stroke="#32508a" stroke-width="1.4" stroke-linejoin="miter"/>
<path d="M433.80 567.62L437.00 573.38L430.60 573.38Z" fill="none" stroke="#32508a" stroke-width="1.4" stroke-linejoin="miter"/>
<path d="M437.11 567.98L440.31 573.74L433.91 573.74Z" fill="none" stroke="#32508a" stroke-width="1.4" stroke-linejoin="miter"/>
<path d="M440.43 568.33L443.63 574.09L437.23 574.09Z" fill="none" stroke="#32508a" stroke-width="1.4" stroke-linejoin="miter"/>
<path d="M443.74 568.69L446.94 574.45L440.54 574.45Z" fill="none" stroke="#32508a" stroke-width="1.4" stroke-linejoin="miter"/>
<path d="M447.06 569.05L450.26 574.81L443.86 574.81Z" fill="none" stroke="#32508a" stroke-width="1.4" stroke-linejoin="miter"/>
<path d="M450.37 569.41L453.57 575.17L447.17 575.17Z" fill="none" stroke="#32508a" stroke-width="1.4" stroke-linejoin="miter"/>
<path d="M453.69 569.76L456.89 575.52L450.49 575.52Z" fill="none" stroke="#32508a" stroke-width="1.4" stroke-linejoin="miter"/>
<path d="M457.00 570.12L460.20 575.88L453.80 575.88Z" fill="none" stroke="#32508a" stroke-width="1.4" stroke-linejoin="miter"/>
<path d="M460.31 569.76L463.51 575.52L457.11 575.52Z" fill="none" stroke="#32508a" stroke-width="1.4" stroke-linejoin="miter"/>
<path d="M463.63 569.41L466.83 575.17L460.43 575.17Z" fill="none" stroke="#32508a" stroke-width="1.4" stroke-linejoin="miter"/>
<path d="M466.94 569.05L470.14 574.81L463.74 574.81Z" fill="none" stroke="#32508a" stroke-width="1.4" stroke-linejoin="miter"/>
<path d="M470.26 568.69L473.46 574.45L467.06 574.45Z" fill="none" stroke="#32508a" stroke-width="1.4" stroke-linejoin="miter"/>
<path d="M473.57 568.33L476.77 574.09L470.37 574.09Z" fill="none" stroke="#32508a" stroke-width="1.4" stroke-linejoin="miter"/>
<path d="M476.89 567.98L480.09 573.74L473.69 573.74Z" fill="none" stroke="#32508a" stroke-width="1.4" stroke-linejoin="miter"/>
<path d="M480.20 567.62L483.40 573.38L477.00 573.38Z" fill="none" stroke="#32508a" stroke-width="1.4" stroke-linejoin="miter"/>
<path d="M433.80 569.62L437.00 575.38L430.60 575.38Z" fill="none" stroke="#32508a" stroke-width="1.4" stroke-linejoin="miter"/>
<path d="M437.11 570.12L440.31 575.88L433.91 575.88Z" fill="none" stroke="#32508a" stroke-width="1.4" stroke-linejoin="miter"/>
<path d="M440.43 570.62L443.63 576.38L437.23 576.38Z" fill="none" stroke="#32508a" stroke-width="1.4" stroke-linejoin="miter"/>
<path d="M443.74 571.12L446.94 576.88L440.54 576.88Z" fill="none" stroke="#32508a" stroke-width="1.4" stroke-linejoin="miter"/>
<path d="M447.06 571.62L450.26 577.38L443.86 577.38Z" fill="none" stroke="#32508a" stroke-width="1.4" stroke-linejoin="miter"/>
<path d="M450.37 572.12L453.57 577.88L447.17 577.88Z" fill="none" stroke="#32508a" stroke-width="1.4" stroke-linejoin="miter"/>
<path d="M453.69 572.62L456.89 578.38L450.49 578.38Z" fill="none" stroke="#32508a" stroke-width="1.4" stroke-linejoin="miter"/>
<path d="M457.00 573.12L460.20 578.88L453.80 578.88Z" fill="none" stroke="#32508a" stroke-width="1.4" stroke-linejoin="miter"/>
<path d="M460.31 572.62L463.51 578.38L457.11 578.38Z" fill="none" stroke="#32508a" stroke-width="1.4" stroke-linejoin="miter"/>
<path d="M463.63 572.12L466.83 577.88L460.43 577.88Z" fill="none" stroke="#32508a" stroke-width="1.4" stroke-linejoin="miter"/>
<path d="M466.94 571.62L470.14 577.38L463.74 577.38Z" fill="none" stroke="#32508a" stroke-width="1.4" stroke-linejoin="miter"/>
<path d="M470.26 571.12L473.46 576.88L467.06 576.88Z" fill="none" stroke="#32508a" stroke-width="1.4" stroke-linejoin="miter"/>
<path d="M473.57 570.62L476.77 576.38L470.37 576.38Z" fill="none" stroke="#32508a" stroke-width="1.4" stroke-linejoin="miter"/>
<path d="M476.89 570.12L480.09 575.88L473.69 575.88Z" fill="none" stroke="#32508a" stroke-width="1.4" stroke-linejoin="miter"/>
<path d="M480.20 569.62L483.40 575.38L477.00 575.38Z" fill="none" stroke="#32508a" stroke-width="1.4" stroke-linejoin="miter"/>
<path d="M433.80 572.12L437.00 577.88L430.60 577.88Z" fill="none" stroke="#32508a" stroke-width="1.4" stroke-linejoin="miter"/>
<path d="M437.11 572.76L440.31 578.52L433.91 578.52Z" fill="none" stroke="#32508a" stroke-width="1.4" stroke-linejoin="miter"/>
<path d="M440.43 573.41L443.63 579.17L437.23 579.17Z" fill="none" stroke="#32508a" stroke-width="1.4" stroke-linejoin="miter"/>
<path d="M443.74 574.05L446.94 579.81L440.54 579.81Z" fill="none" stroke="#32508a" stroke-width="1.4" stroke-linejoin="miter"/>
<path d="M447.06 574.69L450.26 580.45L443.86 580.45Z" fill="none" stroke="#32508a" stroke-width="1.4" stroke-linejoin="miter"/>
<path d="M450.37 575.33L453.57 581.09L447.17 581.09Z" fill="none" stroke="#32508a" stroke-width="1.4" stroke-linejoin="miter"/>
<path d="M453.69 575.98L456.89 581.74L450.49 581.74Z" fill="none" stroke="#32508a" stroke-width="1.4" stroke-linejoin="miter"/>
<path d="M457.00 576.62L460.20 582.38L453.80 582.38Z" fill="none" stroke="#32508a" stroke-width="1.4" stroke-linejoin="miter"/>
<path d="M460.31 575.98L463.51 581.74L457.11 581.74Z" fill="none" stroke="#32508a" stroke-width="1.4" stroke-linejoin="miter"/>
<path d="M463.63 575.33L466.83 581.09L460.43 581.09Z" fill="none" stroke="#32508a" stroke-width="1.4" stroke-linejoin="miter"/>
<path d="M466.94 574.69L470.14 580.45L463.74 580.45Z" fill="none" stroke="#32508a" stroke-width="1.4" stroke-linejoin="miter"/>
<path d="M470.26 574.05L473.46 579.81L467.06 579.81Z" fill="none" stroke="#32508a" stroke-width="1.4" stroke-linejoin="miter"/>
<path d="M473.57 573.41L476.77 579.17L470.37 579.17Z" fill="none" stroke="#32508a" stroke-width="1.4" stroke-linejoin="miter"/>
<path d="M476.89 572.76L480.09 578.52L473.69 578.52Z" fill="none" stroke="#32508a" stroke-width="1.4" stroke-linejoin="miter"/>
<path d="M480.20 572.12L483.40 577.88L477.00 577.88Z" fill="none" stroke="#32508a" stroke-width="1.4" stroke-linejoin="miter"/>
<path d="M433.80 574.62L437.00 580.38L430.60 580.38Z" fill="none" stroke="#32508a" stroke-width="1.4" stroke-linejoin="miter"/>
<path d="M437.11 575.41L440.31 581.17L433.91 581.17Z" fill="none" stroke="#32508a" stroke-width="1.4" stroke-linejoin="miter"/>
<path d="M440.43 576.19L443.63 581.95L437.23 581.95Z" fill="none" stroke="#32508a" stroke-width="1.4" stroke-linejoin="miter"/>
<path d="M443.74 576.98L446.94 582.74L440.54 582.74Z" fill="none" stroke="#32508a" stroke-width="1.4" stroke-linejoin="miter"/>
<path d="M447.06 577.76L450.26 583.52L443.86 583.52Z" fill="none" stroke="#32508a" stroke-width="1.4" stroke-linejoin="miter"/>
<path d="M450.37 578.55L453.57 584.31L447.17 584.31Z" fill="none" stroke="#32508a" stroke-width="1.4" stroke-linejoin="miter"/>
<path d="M453.69 579.33L456.89 585.09L450.49 585.09Z" fill="none" stroke="#32508a" stroke-width="1.4" stroke-linejoin="miter"/>
<path d="M457.00 580.12L460.20 585.88L453.80 585.88Z" fill="none" stroke="#32508a" stroke-width="1.4" stroke-linejoin="miter"/>
<path d="M460.31 579.33L463.51 585.09L457.11 585.09Z" fill="none" stroke="#32508a" stroke-width="1.4" stroke-linejoin="miter"/>
<path d="M463.63 578.55L466.83 584.31L460.43 584.31Z" fill="none" stroke="#32508a" stroke-width="1.4" stroke-linejoin="miter"/>
<path d="M466.94 577.76L470.14 583.52L463.74 583.52Z" fill="none" stroke="#32508a" stroke-width="1.4" stroke-linejoin="miter"/>
<path d="M470.26 576.98L473.46 582.74L467.06 582.74Z" fill="none" stroke="#32508a" stroke-width="1.4" stroke-linejoin="miter"/>
<path d="M473.57 576.19L476.77 581.95L470.37 581.95Z" fill="none" stroke="#32508a" stroke-width="1.4" stroke-linejoin="miter"/>
<path d="M476.89 575.41L480.09 581.17L473.69 581.17Z" fill="none" stroke="#32508a" stroke-width="1.4" stroke-linejoin="miter"/>
<path d="M480.20 574.62L483.40 580.38L477.00 580.38Z" fill="none" stroke="#32508a" stroke-width="1.4" stroke-linejoin="miter"/>
<path d="M433.80 577.62L437.00 583.38L430.60 583.38Z" fill="none" stroke="#32508a" stroke-width="1.4" stroke-linejoin="miter"/>
<path d="M437.11 578.48L440.31 584.24L433.91 584.24Z" fill="none" stroke="#32508a" stroke-width="1.4" stroke-linejoin="miter"/>
<path d="M440.43 579.33L443.63 585.09L437.23 585.09Z" fill="none" stroke="#32508a" stroke-width="1.4" stroke-linejoin="miter"/>
<path d="M443.74 580.19L446.94 585.95L440.54 585.95Z" fill="none" stroke="#32508a" stroke-width="1.4" stroke-linejoin="miter"/>
<path d="M447.06 581.05L450.26 586.81L443.86 586.81Z" fill="none" stroke="#32508a" stroke-width="1.4" stroke-linejoin="miter"/>
<path d="M450.37 581.91L453.57 587.67L447.17 587.67Z" fill="none" stroke="#32508a" stroke-width="1.4" stroke-linejoin="miter"/>
<path d="M453.69 582.76L456.89 588.52L450.49 588.52Z" fill="none" stroke="#32508a" stroke-width="1.4" stroke-linejoin="miter"/>
<path d="M457.00 583.62L460.20 589.38L453.80 589.38Z" fill="none" stroke="#32508a" stroke-width="1.4" stroke-linejoin="miter"/>
<path d="M460.31 582.76L463.51 588.52L457.11 588.52Z" fill="none" stroke="#32508a" stroke-width="1.4" stroke-linejoin="miter"/>
<path d="M463.63 581.91L466.83 587.67L460.43 587.67Z" fill="none" stroke="#32508a" stroke-width="1.4" stroke-linejoin="miter"/>
<path d="M466.94 581.05L470.14 586.81L463.74 586.81Z" fill="none" stroke="#32508a" stroke-width="1.4" stroke-linejoin="miter"/>
<path d="M470.26 580.19L473.46 585.95L467.06 585.95Z" fill="none" stroke="#32508a" stroke-width="1.4" stroke-linejoin="miter"/>
<path d="M473.57 579.33L476.77 585.09L470.37 585.09Z" fill="none" stroke="#32508a" stroke-width="1.4" stroke-linejoin="miter"/>
<path d="M476.89 578.48L480.09 584.24L473.69 584.24Z" fill="none" stroke="#32508a" stroke-width="1.4" stroke-linejoin="miter"/>
<path d="M480.20 577.62L483.40 583.38L477.00 583.38Z" fill="none" stroke="#32508a" stroke-width="1.4" stroke-linejoin="miter"/>
<path d="M433.80 580.12L437.00 585.88L430.60 585.88Z" fill="none" stroke="#32508a" stroke-width="1.4" stroke-linejoin="miter"/>
<path d="M437.11 581.05L440.31 586.81L433.91 586.81Z" fill="none" stroke="#32508a" stroke-width="1.4" stroke-linejoin="miter"/>
<path d="M440.43 581.98L443.63 587.74L437.23 587.74Z" fill="none" stroke="#32508a" stroke-width="1.4" stroke-linejoin="miter"/>
<path d="M443.74 582.91L446.94 588.67L440.54 588.67Z" fill="none" stroke="#32508a" stroke-width="1.4" stroke-linejoin="miter"/>
<path d="M447.06 583.83L450.26 589.59L443.86 589.59Z" fill="none" stroke="#32508a" stroke-width="1.4" stroke-linejoin="miter"/>
<path d="M450.37 584.76L453.57 590.52L447.17 590.52Z" fill="none" stroke="#32508a" stroke-width="1.4" stroke-linejoin="miter"/>
<path d="M453.69 585.69L456.89 591.45L450.49 591.45Z" fill="none" stroke="#32508a" stroke-width="1.4" stroke-linejoin="miter"/>
<path d="M457.00 586.62L460.20 592.38L453.80 592.38Z" fill="none" stroke="#32508a" stroke-width="1.4" stroke-linejoin="miter"/>
<path d="M460.31 585.69L463.51 591.45L457.11 591.45Z" fill="none" stroke="#32508a" stroke-width="1.4" stroke-linejoin="miter"/>
<path d="M463.63 584.76L466.83 590.52L460.43 590.52Z" fill="none" stroke="#32508a" stroke-width="1.4" stroke-linejoin="miter"/>
<path d="M466.94 583.83L470.14 589.59L463.74 589.59Z" fill="none" stroke="#32508a" stroke-width="1.4" stroke-linejoin="miter"/>
<path d="M470.26 582.91L473.46 588.67L467.06 588.67Z" fill="none" stroke="#32508a" stroke-width="1.4" stroke-linejoin="miter"/>
<path d="M473.57 581.98L476.77 587.74L470.37 587.74Z" fill="none" stroke="#32508a" stroke-width="1.4" stroke-linejoin="miter"/>
<path d="M476.89 581.05L480.09 586.81L473.69 586.81Z" fill="none" stroke="#32508a" stroke-width="1.4" stroke-linejoin="miter"/>
<path d="M480.20 580.12L483.40 585.88L477.00 585.88Z" fill="none" stroke="#32508a" stroke-width="1.4" stroke-linejoin="miter"/>
<path d="M436.00 585.62L439.20 591.38L432.80 591.38Z" fill="none" stroke="#32508a" stroke-width="1.4" stroke-linejoin="miter"/>
<path d="M439.50 587.37L442.70 593.13L436.30 593.13Z" fill="none" stroke="#32508a" stroke-width="1.4" stroke-linejoin="miter"/>
<path d="M443.00 589.12L446.20 594.88L439.80 594.88Z" fill="none" stroke="#32508a" stroke-width="1.4" stroke-linejoin="miter"/>
<path d="M446.50 590.87L449.70 596.63L443.30 596.63Z" fill="none" stroke="#32508a" stroke-width="1.4" stroke-linejoin="miter"/>
<path d="M450.00 592.62L453.20 598.38L446.80 598.38Z" fill="none" stroke="#32508a" stroke-width="1.4" stroke-linejoin="miter"/>
<path d="M453.50 594.37L456.70 600.13L450.30 600.13Z" fill="none" stroke="#32508a" stroke-width="1.4" stroke-linejoin="miter"/>
<path d="M457.00 596.12L460.20 601.88L453.80 601.88Z" fill="none" stroke="#32508a" stroke-width="1.4" stroke-linejoin="miter"/>
<path d="M460.50 594.37L463.70 600.13L457.30 600.13Z" fill="none" stroke="#32508a" stroke-width="1.4" stroke-linejoin="miter"/>
<path d="M464.00 592.62L467.20 598.38L460.80 598.38Z" fill="none" stroke="#32508a" stroke-width="1.4" stroke-linejoin="miter"/>
<path d="M467.50 590.87L470.70 596.63L464.30 596.63Z" fill="none" stroke="#32508a" stroke-width="1.4" stroke-linejoin="miter"/>
<path d="M471.00 589.12L474.20 594.88L467.80 594.88Z" fill="none" stroke="#32508a" stroke-width="1.4" stroke-linejoin="miter"/>
<path d="M474.50 587.37L477.70 593.13L471.30 593.13Z" fill="none" stroke="#32508a" stroke-width="1.4" stroke-linejoin="miter"/>
<path d="M478.00 585.62L481.20 591.38L474.80 591.38Z" fill="none" stroke="#32508a" stroke-width="1.4" stroke-linejoin="miter"/>
<path d="M440.00 583.12L443.20 588.88L436.80 588.88Z" fill="none" stroke="#32508a" stroke-width="1.4" stroke-linejoin="miter"/>
<path d="M443.78 584.90L446.98 590.66L440.58 590.66Z" fill="none" stroke="#32508a" stroke-width="1.4" stroke-linejoin="miter"/>
<path d="M447.56 586.68L450.76 592.44L444.36 592.44Z" fill="none" stroke="#32508a" stroke-width="1.4" stroke-linejoin="miter"/>
<path d="M451.33 588.45L454.53 594.21L448.13 594.21Z" fill="none" stroke="#32508a" stroke-width="1.4" stroke-linejoin="miter"/>
<path d="M455.11 590.23L458.31 595.99L451.91 595.99Z" fill="none" stroke="#32508a" stroke-width="1.4" stroke-linejoin="miter"/>
<path d="M458.89 590.23L462.09 595.99L455.69 595.99Z" fill="none" stroke="#32508a" stroke-width="1.4" stroke-linejoin="miter"/>
<path d="M462.67 588.45L465.87 594.21L459.47 594.21Z" fill="none" stroke="#32508a" stroke-width="1.4" stroke-linejoin="miter"/>
<path d="M466.44 586.68L469.64 592.44L463.24 592.44Z" fill="none" stroke="#32508a" stroke-width="1.4" stroke-linejoin="miter"/>
<path d="M470.22 584.90L473.42 590.66L467.02 590.66Z" fill="none" stroke="#32508a" stroke-width="1.4" stroke-linejoin="miter"/>
<path d="M474.00 583.12L477.20 588.88L470.80 588.88Z" fill="none" stroke="#32508a" stroke-width="1.4" stroke-linejoin="miter"/>
<line x1="430.80" y1="568.00" x2="483.00" y2="568.00" stroke="#000" stroke-width="2.2" />
<polyline points="100.00,864.44 163.00,704.34 225.50,746.05" fill="none" stroke="#ad0e33" stroke-width="1.75" stroke-linejoin="round"/>
<polyline points="100.00,868.94 163.00,707.49 225.50,807.05" fill="none" stroke="#ad0e33" stroke-width="1.75" stroke-linejoin="round"/>
<polyline points="100.00,867.14 163.00,727.16 225.50,756.68" fill="none" stroke="#ad0e33" stroke-width="1.75" stroke-linejoin="round"/>
<polyline points="100.00,865.34 163.00,743.69 225.50,783.83" fill="none" stroke="#ad0e33" stroke-width="1.75" stroke-linejoin="round"/>
<polyline points="100.00,862.64 163.00,748.41 225.50,790.91" fill="none" stroke="#ad0e33" stroke-width="1.75" stroke-linejoin="round"/>
<polyline points="100.00,847.57 163.00,759.43 225.50,815.43" fill="none" stroke="#ad0e33" stroke-width="1.75" stroke-linejoin="round"/>
<polyline points="100.00,872.53 163.00,761.60 225.50,823.80" fill="none" stroke="#ad0e33" stroke-width="1.75" stroke-linejoin="round"/>
<polyline points="100.00,866.24 163.00,763.77 225.50,820.45" fill="none" stroke="#ad0e33" stroke-width="1.75" stroke-linejoin="round"/>
<polyline points="100.00,861.74 163.00,765.94 225.50,802.03" fill="none" stroke="#ad0e33" stroke-width="1.75" stroke-linejoin="round"/>
<polyline points="100.00,881.53 163.00,768.11 225.50,805.38" fill="none" stroke="#ad0e33" stroke-width="1.75" stroke-linejoin="round"/>
<polyline points="100.00,895.02 163.00,770.29 225.50,800.35" fill="none" stroke="#ad0e33" stroke-width="1.75" stroke-linejoin="round"/>
<polyline points="100.00,870.73 163.00,772.46 225.50,822.13" fill="none" stroke="#ad0e33" stroke-width="1.75" stroke-linejoin="round"/>
<polyline points="100.00,869.83 163.00,774.63 225.50,812.08" fill="none" stroke="#ad0e33" stroke-width="1.75" stroke-linejoin="round"/>
<polyline points="100.00,874.33 163.00,776.80 225.50,817.10" fill="none" stroke="#ad0e33" stroke-width="1.75" stroke-linejoin="round"/>
<polyline points="100.00,877.93 163.00,778.97 225.50,818.78" fill="none" stroke="#ad0e33" stroke-width="1.75" stroke-linejoin="round"/>
<polyline points="100.00,876.13 163.00,781.14 225.50,832.18" fill="none" stroke="#ad0e33" stroke-width="1.75" stroke-linejoin="round"/>
<polyline points="100.00,863.54 163.00,783.31 225.50,842.23" fill="none" stroke="#ad0e33" stroke-width="1.75" stroke-linejoin="round"/>
<polyline points="100.00,875.23 163.00,785.48 225.50,808.73" fill="none" stroke="#ad0e33" stroke-width="1.75" stroke-linejoin="round"/>
<polyline points="100.00,878.83 163.00,787.65 225.50,845.58" fill="none" stroke="#ad0e33" stroke-width="1.75" stroke-linejoin="round"/>
<polyline points="100.00,894.12 163.00,789.82 225.50,813.75" fill="none" stroke="#ad0e33" stroke-width="1.75" stroke-linejoin="round"/>
<polyline points="100.00,884.23 163.00,792.00 225.50,825.48" fill="none" stroke="#ad0e33" stroke-width="1.75" stroke-linejoin="round"/>
<polyline points="100.00,873.43 163.00,794.17 225.50,850.60" fill="none" stroke="#ad0e33" stroke-width="1.75" stroke-linejoin="round"/>
<polyline points="100.00,877.03 163.00,796.34 225.50,810.40" fill="none" stroke="#ad0e33" stroke-width="1.75" stroke-linejoin="round"/>
<polyline points="100.00,886.02 163.00,798.51 225.50,828.83" fill="none" stroke="#ad0e33" stroke-width="1.75" stroke-linejoin="round"/>
<polyline points="100.00,879.73 163.00,800.68 225.50,827.15" fill="none" stroke="#ad0e33" stroke-width="1.75" stroke-linejoin="round"/>
<polyline points="100.00,868.04 163.00,802.85 225.50,803.70" fill="none" stroke="#ad0e33" stroke-width="1.75" stroke-linejoin="round"/>
<polyline points="100.00,871.63 163.00,805.02 225.50,838.88" fill="none" stroke="#ad0e33" stroke-width="1.75" stroke-linejoin="round"/>
<polyline points="100.00,892.32 163.00,807.19 225.50,847.25" fill="none" stroke="#ad0e33" stroke-width="1.75" stroke-linejoin="round"/>
<polyline points="100.00,888.72 163.00,809.36 225.50,830.50" fill="none" stroke="#ad0e33" stroke-width="1.75" stroke-linejoin="round"/>
<polyline points="100.00,885.13 163.00,811.53 225.50,833.85" fill="none" stroke="#ad0e33" stroke-width="1.75" stroke-linejoin="round"/>
<polyline points="100.00,889.62 163.00,813.71 225.50,840.55" fill="none" stroke="#ad0e33" stroke-width="1.75" stroke-linejoin="round"/>
<polyline points="100.00,890.52 163.00,815.88 225.50,843.90" fill="none" stroke="#ad0e33" stroke-width="1.75" stroke-linejoin="round"/>
<polyline points="100.00,887.82 163.00,818.05 225.50,835.53" fill="none" stroke="#ad0e33" stroke-width="1.75" stroke-linejoin="round"/>
<polyline points="100.00,891.42 163.00,820.22 225.50,837.20" fill="none" stroke="#ad0e33" stroke-width="1.75" stroke-linejoin="round"/>
<polyline points="100.00,883.33 163.00,822.39 225.50,855.63" fill="none" stroke="#ad0e33" stroke-width="1.75" stroke-linejoin="round"/>
<polyline points="100.00,882.43 163.00,827.11 225.50,864.00" fill="none" stroke="#ad0e33" stroke-width="1.75" stroke-linejoin="round"/>
<polyline points="100.00,895.92 163.00,830.26 225.50,853.95" fill="none" stroke="#ad0e33" stroke-width="1.75" stroke-linejoin="round"/>
<polyline points="100.00,880.63 163.00,832.62 225.50,865.68" fill="none" stroke="#ad0e33" stroke-width="1.75" stroke-linejoin="round"/>
<polyline points="100.00,896.82 163.00,836.56 225.50,862.33" fill="none" stroke="#ad0e33" stroke-width="1.75" stroke-linejoin="round"/>
<polyline points="100.00,898.62 163.00,838.92 225.50,852.28" fill="none" stroke="#ad0e33" stroke-width="1.75" stroke-linejoin="round"/>
<polyline points="100.00,899.52 163.00,848.36 225.50,848.93" fill="none" stroke="#ad0e33" stroke-width="1.75" stroke-linejoin="round"/>
<polyline points="100.00,886.92 163.00,850.72 225.50,857.30" fill="none" stroke="#ad0e33" stroke-width="1.75" stroke-linejoin="round"/>
<polyline points="100.00,897.72 163.00,853.87 225.50,858.98" fill="none" stroke="#ad0e33" stroke-width="1.75" stroke-linejoin="round"/>
<polyline points="100.00,893.22 163.00,856.23 225.50,860.65" fill="none" stroke="#ad0e33" stroke-width="1.75" stroke-linejoin="round"/>
<circle cx="100.00" cy="864.44" r="2.8" fill="none" stroke="#ad0e33" stroke-width="1.4"/>
<circle cx="163.00" cy="704.34" r="2.8" fill="none" stroke="#ad0e33" stroke-width="1.4"/>
<circle cx="225.50" cy="746.05" r="2.8" fill="none" stroke="#ad0e33" stroke-width="1.4"/>
<circle cx="100.00" cy="868.94" r="2.8" fill="none" stroke="#ad0e33" stroke-width="1.4"/>
<circle cx="163.00" cy="707.49" r="2.8" fill="none" stroke="#ad0e33" stroke-width="1.4"/>
<circle cx="225.50" cy="807.05" r="2.8" fill="none" stroke="#ad0e33" stroke-width="1.4"/>
<circle cx="100.00" cy="867.14" r="2.8" fill="none" stroke="#ad0e33" stroke-width="1.4"/>
<circle cx="163.00" cy="727.16" r="2.8" fill="none" stroke="#ad0e33" stroke-width="1.4"/>
<circle cx="225.50" cy="756.68" r="2.8" fill="none" stroke="#ad0e33" stroke-width="1.4"/>
<circle cx="100.00" cy="865.34" r="2.8" fill="none" stroke="#ad0e33" stroke-width="1.4"/>
<circle cx="163.00" cy="743.69" r="2.8" fill="none" stroke="#ad0e33" stroke-width="1.4"/>
<circle cx="225.50" cy="783.83" r="2.8" fill="none" stroke="#ad0e33" stroke-width="1.4"/>
<circle cx="100.00" cy="862.64" r="2.8" fill="none" stroke="#ad0e33" stroke-width="1.4"/>
<circle cx="163.00" cy="748.41" r="2.8" fill="none" stroke="#ad0e33" stroke-width="1.4"/>
<circle cx="225.50" cy="790.91" r="2.8" fill="none" stroke="#ad0e33" stroke-width="1.4"/>
<circle cx="100.00" cy="847.57" r="2.8" fill="none" stroke="#ad0e33" stroke-width="1.4"/>
<circle cx="163.00" cy="759.43" r="2.8" fill="none" stroke="#ad0e33" stroke-width="1.4"/>
<circle cx="225.50" cy="815.43" r="2.8" fill="none" stroke="#ad0e33" stroke-width="1.4"/>
<circle cx="100.00" cy="872.53" r="2.8" fill="none" stroke="#ad0e33" stroke-width="1.4"/>
<circle cx="163.00" cy="761.60" r="2.8" fill="none" stroke="#ad0e33" stroke-width="1.4"/>
<circle cx="225.50" cy="823.80" r="2.8" fill="none" stroke="#ad0e33" stroke-width="1.4"/>
<circle cx="100.00" cy="866.24" r="2.8" fill="none" stroke="#ad0e33" stroke-width="1.4"/>
<circle cx="163.00" cy="763.77" r="2.8" fill="none" stroke="#ad0e33" stroke-width="1.4"/>
<circle cx="225.50" cy="820.45" r="2.8" fill="none" stroke="#ad0e33" stroke-width="1.4"/>
<circle cx="100.00" cy="861.74" r="2.8" fill="none" stroke="#ad0e33" stroke-width="1.4"/>
<circle cx="163.00" cy="765.94" r="2.8" fill="none" stroke="#ad0e33" stroke-width="1.4"/>
<circle cx="225.50" cy="802.03" r="2.8" fill="none" stroke="#ad0e33" stroke-width="1.4"/>
<circle cx="100.00" cy="881.53" r="2.8" fill="none" stroke="#ad0e33" stroke-width="1.4"/>
<circle cx="163.00" cy="768.11" r="2.8" fill="none" stroke="#ad0e33" stroke-width="1.4"/>
<circle cx="225.50" cy="805.38" r="2.8" fill="none" stroke="#ad0e33" stroke-width="1.4"/>
<circle cx="100.00" cy="895.02" r="2.8" fill="none" stroke="#ad0e33" stroke-width="1.4"/>
<circle cx="163.00" cy="770.29" r="2.8" fill="none" stroke="#ad0e33" stroke-width="1.4"/>
<circle cx="225.50" cy="800.35" r="2.8" fill="none" stroke="#ad0e33" stroke-width="1.4"/>
<circle cx="100.00" cy="870.73" r="2.8" fill="none" stroke="#ad0e33" stroke-width="1.4"/>
<circle cx="163.00" cy="772.46" r="2.8" fill="none" stroke="#ad0e33" stroke-width="1.4"/>
<circle cx="225.50" cy="822.13" r="2.8" fill="none" stroke="#ad0e33" stroke-width="1.4"/>
<circle cx="100.00" cy="869.83" r="2.8" fill="none" stroke="#ad0e33" stroke-width="1.4"/>
<circle cx="163.00" cy="774.63" r="2.8" fill="none" stroke="#ad0e33" stroke-width="1.4"/>
<circle cx="225.50" cy="812.08" r="2.8" fill="none" stroke="#ad0e33" stroke-width="1.4"/>
<circle cx="100.00" cy="874.33" r="2.8" fill="none" stroke="#ad0e33" stroke-width="1.4"/>
<circle cx="163.00" cy="776.80" r="2.8" fill="none" stroke="#ad0e33" stroke-width="1.4"/>
<circle cx="225.50" cy="817.10" r="2.8" fill="none" stroke="#ad0e33" stroke-width="1.4"/>
<circle cx="100.00" cy="877.93" r="2.8" fill="none" stroke="#ad0e33" stroke-width="1.4"/>
<circle cx="163.00" cy="778.97" r="2.8" fill="none" stroke="#ad0e33" stroke-width="1.4"/>
<circle cx="225.50" cy="818.78" r="2.8" fill="none" stroke="#ad0e33" stroke-width="1.4"/>
<circle cx="100.00" cy="876.13" r="2.8" fill="none" stroke="#ad0e33" stroke-width="1.4"/>
<circle cx="163.00" cy="781.14" r="2.8" fill="none" stroke="#ad0e33" stroke-width="1.4"/>
<circle cx="225.50" cy="832.18" r="2.8" fill="none" stroke="#ad0e33" stroke-width="1.4"/>
<circle cx="100.00" cy="863.54" r="2.8" fill="none" stroke="#ad0e33" stroke-width="1.4"/>
<circle cx="163.00" cy="783.31" r="2.8" fill="none" stroke="#ad0e33" stroke-width="1.4"/>
<circle cx="225.50" cy="842.23" r="2.8" fill="none" stroke="#ad0e33" stroke-width="1.4"/>
<circle cx="100.00" cy="875.23" r="2.8" fill="none" stroke="#ad0e33" stroke-width="1.4"/>
<circle cx="163.00" cy="785.48" r="2.8" fill="none" stroke="#ad0e33" stroke-width="1.4"/>
<circle cx="225.50" cy="808.73" r="2.8" fill="none" stroke="#ad0e33" stroke-width="1.4"/>
<circle cx="100.00" cy="878.83" r="2.8" fill="none" stroke="#ad0e33" stroke-width="1.4"/>
<circle cx="163.00" cy="787.65" r="2.8" fill="none" stroke="#ad0e33" stroke-width="1.4"/>
<circle cx="225.50" cy="845.58" r="2.8" fill="none" stroke="#ad0e33" stroke-width="1.4"/>
<circle cx="100.00" cy="894.12" r="2.8" fill="none" stroke="#ad0e33" stroke-width="1.4"/>
<circle cx="163.00" cy="789.82" r="2.8" fill="none" stroke="#ad0e33" stroke-width="1.4"/>
<circle cx="225.50" cy="813.75" r="2.8" fill="none" stroke="#ad0e33" stroke-width="1.4"/>
<circle cx="100.00" cy="884.23" r="2.8" fill="none" stroke="#ad0e33" stroke-width="1.4"/>
<circle cx="163.00" cy="792.00" r="2.8" fill="none" stroke="#ad0e33" stroke-width="1.4"/>
<circle cx="225.50" cy="825.48" r="2.8" fill="none" stroke="#ad0e33" stroke-width="1.4"/>
<circle cx="100.00" cy="873.43" r="2.8" fill="none" stroke="#ad0e33" stroke-width="1.4"/>
<circle cx="163.00" cy="794.17" r="2.8" fill="none" stroke="#ad0e33" stroke-width="1.4"/>
<circle cx="225.50" cy="850.60" r="2.8" fill="none" stroke="#ad0e33" stroke-width="1.4"/>
<circle cx="100.00" cy="877.03" r="2.8" fill="none" stroke="#ad0e33" stroke-width="1.4"/>
<circle cx="163.00" cy="796.34" r="2.8" fill="none" stroke="#ad0e33" stroke-width="1.4"/>
<circle cx="225.50" cy="810.40" r="2.8" fill="none" stroke="#ad0e33" stroke-width="1.4"/>
<circle cx="100.00" cy="886.02" r="2.8" fill="none" stroke="#ad0e33" stroke-width="1.4"/>
<circle cx="163.00" cy="798.51" r="2.8" fill="none" stroke="#ad0e33" stroke-width="1.4"/>
<circle cx="225.50" cy="828.83" r="2.8" fill="none" stroke="#ad0e33" stroke-width="1.4"/>
<circle cx="100.00" cy="879.73" r="2.8" fill="none" stroke="#ad0e33" stroke-width="1.4"/>
<circle cx="163.00" cy="800.68" r="2.8" fill="none" stroke="#ad0e33" stroke-width="1.4"/>
<circle cx="225.50" cy="827.15" r="2.8" fill="none" stroke="#ad0e33" stroke-width="1.4"/>
<circle cx="100.00" cy="868.04" r="2.8" fill="none" stroke="#ad0e33" stroke-width="1.4"/>
<circle cx="163.00" cy="802.85" r="2.8" fill="none" stroke="#ad0e33" stroke-width="1.4"/>
<circle cx="225.50" cy="803.70" r="2.8" fill="none" stroke="#ad0e33" stroke-width="1.4"/>
<circle cx="100.00" cy="871.63" r="2.8" fill="none" stroke="#ad0e33" stroke-width="1.4"/>
<circle cx="163.00" cy="805.02" r="2.8" fill="none" stroke="#ad0e33" stroke-width="1.4"/>
<circle cx="225.50" cy="838.88" r="2.8" fill="none" stroke="#ad0e33" stroke-width="1.4"/>
<circle cx="100.00" cy="892.32" r="2.8" fill="none" stroke="#ad0e33" stroke-width="1.4"/>
<circle cx="163.00" cy="807.19" r="2.8" fill="none" stroke="#ad0e33" stroke-width="1.4"/>
<circle cx="225.50" cy="847.25" r="2.8" fill="none" stroke="#ad0e33" stroke-width="1.4"/>
<circle cx="100.00" cy="888.72" r="2.8" fill="none" stroke="#ad0e33" stroke-width="1.4"/>
<circle cx="163.00" cy="809.36" r="2.8" fill="none" stroke="#ad0e33" stroke-width="1.4"/>
<circle cx="225.50" cy="830.50" r="2.8" fill="none" stroke="#ad0e33" stroke-width="1.4"/>
<circle cx="100.00" cy="885.13" r="2.8" fill="none" stroke="#ad0e33" stroke-width="1.4"/>
<circle cx="163.00" cy="811.53" r="2.8" fill="none" stroke="#ad0e33" stroke-width="1.4"/>
<circle cx="225.50" cy="833.85" r="2.8" fill="none" stroke="#ad0e33" stroke-width="1.4"/>
<circle cx="100.00" cy="889.62" r="2.8" fill="none" stroke="#ad0e33" stroke-width="1.4"/>
<circle cx="163.00" cy="813.71" r="2.8" fill="none" stroke="#ad0e33" stroke-width="1.4"/>
<circle cx="225.50" cy="840.55" r="2.8" fill="none" stroke="#ad0e33" stroke-width="1.4"/>
<circle cx="100.00" cy="890.52" r="2.8" fill="none" stroke="#ad0e33" stroke-width="1.4"/>
<circle cx="163.00" cy="815.88" r="2.8" fill="none" stroke="#ad0e33" stroke-width="1.4"/>
<circle cx="225.50" cy="843.90" r="2.8" fill="none" stroke="#ad0e33" stroke-width="1.4"/>
<circle cx="100.00" cy="887.82" r="2.8" fill="none" stroke="#ad0e33" stroke-width="1.4"/>
<circle cx="163.00" cy="818.05" r="2.8" fill="none" stroke="#ad0e33" stroke-width="1.4"/>
<circle cx="225.50" cy="835.53" r="2.8" fill="none" stroke="#ad0e33" stroke-width="1.4"/>
<circle cx="100.00" cy="891.42" r="2.8" fill="none" stroke="#ad0e33" stroke-width="1.4"/>
<circle cx="163.00" cy="820.22" r="2.8" fill="none" stroke="#ad0e33" stroke-width="1.4"/>
<circle cx="225.50" cy="837.20" r="2.8" fill="none" stroke="#ad0e33" stroke-width="1.4"/>
<circle cx="100.00" cy="883.33" r="2.8" fill="none" stroke="#ad0e33" stroke-width="1.4"/>
<circle cx="163.00" cy="822.39" r="2.8" fill="none" stroke="#ad0e33" stroke-width="1.4"/>
<circle cx="225.50" cy="855.63" r="2.8" fill="none" stroke="#ad0e33" stroke-width="1.4"/>
<circle cx="100.00" cy="882.43" r="2.8" fill="none" stroke="#ad0e33" stroke-width="1.4"/>
<circle cx="163.00" cy="827.11" r="2.8" fill="none" stroke="#ad0e33" stroke-width="1.4"/>
<circle cx="225.50" cy="864.00" r="2.8" fill="none" stroke="#ad0e33" stroke-width="1.4"/>
<circle cx="100.00" cy="895.92" r="2.8" fill="none" stroke="#ad0e33" stroke-width="1.4"/>
<circle cx="163.00" cy="830.26" r="2.8" fill="none" stroke="#ad0e33" stroke-width="1.4"/>
<circle cx="225.50" cy="853.95" r="2.8" fill="none" stroke="#ad0e33" stroke-width="1.4"/>
<circle cx="100.00" cy="880.63" r="2.8" fill="none" stroke="#ad0e33" stroke-width="1.4"/>
<circle cx="163.00" cy="832.62" r="2.8" fill="none" stroke="#ad0e33" stroke-width="1.4"/>
<circle cx="225.50" cy="865.68" r="2.8" fill="none" stroke="#ad0e33" stroke-width="1.4"/>
<circle cx="100.00" cy="896.82" r="2.8" fill="none" stroke="#ad0e33" stroke-width="1.4"/>
<circle cx="163.00" cy="836.56" r="2.8" fill="none" stroke="#ad0e33" stroke-width="1.4"/>
<circle cx="225.50" cy="862.33" r="2.8" fill="none" stroke="#ad0e33" stroke-width="1.4"/>
<circle cx="100.00" cy="898.62" r="2.8" fill="none" stroke="#ad0e33" stroke-width="1.4"/>
<circle cx="163.00" cy="838.92" r="2.8" fill="none" stroke="#ad0e33" stroke-width="1.4"/>
<circle cx="225.50" cy="852.28" r="2.8" fill="none" stroke="#ad0e33" stroke-width="1.4"/>
<circle cx="100.00" cy="899.52" r="2.8" fill="none" stroke="#ad0e33" stroke-width="1.4"/>
<circle cx="163.00" cy="848.36" r="2.8" fill="none" stroke="#ad0e33" stroke-width="1.4"/>
<circle cx="225.50" cy="848.93" r="2.8" fill="none" stroke="#ad0e33" stroke-width="1.4"/>
<circle cx="100.00" cy="886.92" r="2.8" fill="none" stroke="#ad0e33" stroke-width="1.4"/>
<circle cx="163.00" cy="850.72" r="2.8" fill="none" stroke="#ad0e33" stroke-width="1.4"/>
<circle cx="225.50" cy="857.30" r="2.8" fill="none" stroke="#ad0e33" stroke-width="1.4"/>
<circle cx="100.00" cy="897.72" r="2.8" fill="none" stroke="#ad0e33" stroke-width="1.4"/>
<circle cx="163.00" cy="853.87" r="2.8" fill="none" stroke="#ad0e33" stroke-width="1.4"/>
<circle cx="225.50" cy="858.98" r="2.8" fill="none" stroke="#ad0e33" stroke-width="1.4"/>
<circle cx="100.00" cy="893.22" r="2.8" fill="none" stroke="#ad0e33" stroke-width="1.4"/>
<circle cx="163.00" cy="856.23" r="2.8" fill="none" stroke="#ad0e33" stroke-width="1.4"/>
<circle cx="225.50" cy="860.65" r="2.8" fill="none" stroke="#ad0e33" stroke-width="1.4"/>
<polyline points="357.80,877.92 422.40,715.05 486.80,828.52" fill="none" stroke="#ad0e33" stroke-width="1.75" stroke-linejoin="round"/>
<polyline points="357.80,848.42 422.40,733.32 486.80,801.54" fill="none" stroke="#ad0e33" stroke-width="1.75" stroke-linejoin="round"/>
<polyline points="357.80,878.83 422.40,737.68 486.80,770.18" fill="none" stroke="#ad0e33" stroke-width="1.75" stroke-linejoin="round"/>
<polyline points="357.80,861.35 422.40,742.53 486.80,780.68" fill="none" stroke="#ad0e33" stroke-width="1.75" stroke-linejoin="round"/>
<polyline points="357.80,880.64 422.40,746.17 486.80,793.78" fill="none" stroke="#ad0e33" stroke-width="1.75" stroke-linejoin="round"/>
<polyline points="357.80,881.55 422.40,750.62 486.80,822.82" fill="none" stroke="#ad0e33" stroke-width="1.75" stroke-linejoin="round"/>
<polyline points="357.80,865.39 422.40,754.66 486.80,815.70" fill="none" stroke="#ad0e33" stroke-width="1.75" stroke-linejoin="round"/>
<polyline points="357.80,885.17 422.40,758.70 486.80,783.19" fill="none" stroke="#ad0e33" stroke-width="1.75" stroke-linejoin="round"/>
<polyline points="357.80,879.73 422.40,763.55 486.80,819.98" fill="none" stroke="#ad0e33" stroke-width="1.75" stroke-linejoin="round"/>
<polyline points="357.80,883.36 422.40,767.59 486.80,812.85" fill="none" stroke="#ad0e33" stroke-width="1.75" stroke-linejoin="round"/>
<polyline points="357.80,891.51 422.40,770.82 486.80,818.55" fill="none" stroke="#ad0e33" stroke-width="1.75" stroke-linejoin="round"/>
<polyline points="357.80,882.45 422.40,774.86 486.80,824.25" fill="none" stroke="#ad0e33" stroke-width="1.75" stroke-linejoin="round"/>
<polyline points="357.80,888.79 422.40,778.50 486.80,817.13" fill="none" stroke="#ad0e33" stroke-width="1.75" stroke-linejoin="round"/>
<polyline points="357.80,884.26 422.40,782.14 486.80,804.12" fill="none" stroke="#ad0e33" stroke-width="1.75" stroke-linejoin="round"/>
<polyline points="357.80,898.76 422.40,786.18 486.80,821.40" fill="none" stroke="#ad0e33" stroke-width="1.75" stroke-linejoin="round"/>
<polyline points="357.80,887.89 422.40,789.41 486.80,786.75" fill="none" stroke="#ad0e33" stroke-width="1.75" stroke-linejoin="round"/>
<polyline points="357.80,892.42 422.40,792.65 486.80,832.79" fill="none" stroke="#ad0e33" stroke-width="1.75" stroke-linejoin="round"/>
<polyline points="357.80,867.82 422.40,795.88 486.80,814.28" fill="none" stroke="#ad0e33" stroke-width="1.75" stroke-linejoin="round"/>
<polyline points="357.80,895.13 422.40,799.11 486.80,827.10" fill="none" stroke="#ad0e33" stroke-width="1.75" stroke-linejoin="round"/>
<polyline points="357.80,890.60 422.40,800.97 486.80,835.64" fill="none" stroke="#ad0e33" stroke-width="1.75" stroke-linejoin="round"/>
<polyline points="357.80,894.23 422.40,804.77 486.80,831.37" fill="none" stroke="#ad0e33" stroke-width="1.75" stroke-linejoin="round"/>
<polyline points="357.80,886.08 422.40,808.00 486.80,825.67" fill="none" stroke="#ad0e33" stroke-width="1.75" stroke-linejoin="round"/>
<polyline points="357.80,889.70 422.40,811.24 486.80,837.07" fill="none" stroke="#ad0e33" stroke-width="1.75" stroke-linejoin="round"/>
<polyline points="357.80,901.47 422.40,813.91 486.80,838.49" fill="none" stroke="#ad0e33" stroke-width="1.75" stroke-linejoin="round"/>
<polyline points="357.80,886.98 422.40,817.14 486.80,834.22" fill="none" stroke="#ad0e33" stroke-width="1.75" stroke-linejoin="round"/>
<polyline points="357.80,896.95 422.40,820.94 486.80,841.34" fill="none" stroke="#ad0e33" stroke-width="1.75" stroke-linejoin="round"/>
<polyline points="357.80,896.04 422.40,824.66 486.80,864.99" fill="none" stroke="#ad0e33" stroke-width="1.75" stroke-linejoin="round"/>
<polyline points="357.80,897.85 422.40,829.02 486.80,842.76" fill="none" stroke="#ad0e33" stroke-width="1.75" stroke-linejoin="round"/>
<polyline points="357.80,893.32 422.40,833.30 486.80,859.74" fill="none" stroke="#ad0e33" stroke-width="1.75" stroke-linejoin="round"/>
<polyline points="357.80,900.57 422.40,837.51 486.80,848.42" fill="none" stroke="#ad0e33" stroke-width="1.75" stroke-linejoin="round"/>
<polyline points="357.80,904.19 422.40,841.15 486.80,829.94" fill="none" stroke="#ad0e33" stroke-width="1.75" stroke-linejoin="round"/>
<polyline points="357.80,903.29 422.40,850.44 486.80,839.91" fill="none" stroke="#ad0e33" stroke-width="1.75" stroke-linejoin="round"/>
<polyline points="357.80,902.38 422.40,853.59 486.80,854.48" fill="none" stroke="#ad0e33" stroke-width="1.75" stroke-linejoin="round"/>
<polyline points="357.80,899.66 422.40,861.35 486.80,871.05" fill="none" stroke="#ad0e33" stroke-width="1.75" stroke-linejoin="round"/>
<circle cx="357.80" cy="877.92" r="2.8" fill="none" stroke="#ad0e33" stroke-width="1.4"/>
<circle cx="422.40" cy="715.05" r="2.8" fill="none" stroke="#ad0e33" stroke-width="1.4"/>
<circle cx="486.80" cy="828.52" r="2.8" fill="none" stroke="#ad0e33" stroke-width="1.4"/>
<circle cx="357.80" cy="848.42" r="2.8" fill="none" stroke="#ad0e33" stroke-width="1.4"/>
<circle cx="422.40" cy="733.32" r="2.8" fill="none" stroke="#ad0e33" stroke-width="1.4"/>
<circle cx="486.80" cy="801.54" r="2.8" fill="none" stroke="#ad0e33" stroke-width="1.4"/>
<circle cx="357.80" cy="878.83" r="2.8" fill="none" stroke="#ad0e33" stroke-width="1.4"/>
<circle cx="422.40" cy="737.68" r="2.8" fill="none" stroke="#ad0e33" stroke-width="1.4"/>
<circle cx="486.80" cy="770.18" r="2.8" fill="none" stroke="#ad0e33" stroke-width="1.4"/>
<circle cx="357.80" cy="861.35" r="2.8" fill="none" stroke="#ad0e33" stroke-width="1.4"/>
<circle cx="422.40" cy="742.53" r="2.8" fill="none" stroke="#ad0e33" stroke-width="1.4"/>
<circle cx="486.80" cy="780.68" r="2.8" fill="none" stroke="#ad0e33" stroke-width="1.4"/>
<circle cx="357.80" cy="880.64" r="2.8" fill="none" stroke="#ad0e33" stroke-width="1.4"/>
<circle cx="422.40" cy="746.17" r="2.8" fill="none" stroke="#ad0e33" stroke-width="1.4"/>
<circle cx="486.80" cy="793.78" r="2.8" fill="none" stroke="#ad0e33" stroke-width="1.4"/>
<circle cx="357.80" cy="881.55" r="2.8" fill="none" stroke="#ad0e33" stroke-width="1.4"/>
<circle cx="422.40" cy="750.62" r="2.8" fill="none" stroke="#ad0e33" stroke-width="1.4"/>
<circle cx="486.80" cy="822.82" r="2.8" fill="none" stroke="#ad0e33" stroke-width="1.4"/>
<circle cx="357.80" cy="865.39" r="2.8" fill="none" stroke="#ad0e33" stroke-width="1.4"/>
<circle cx="422.40" cy="754.66" r="2.8" fill="none" stroke="#ad0e33" stroke-width="1.4"/>
<circle cx="486.80" cy="815.70" r="2.8" fill="none" stroke="#ad0e33" stroke-width="1.4"/>
<circle cx="357.80" cy="885.17" r="2.8" fill="none" stroke="#ad0e33" stroke-width="1.4"/>
<circle cx="422.40" cy="758.70" r="2.8" fill="none" stroke="#ad0e33" stroke-width="1.4"/>
<circle cx="486.80" cy="783.19" r="2.8" fill="none" stroke="#ad0e33" stroke-width="1.4"/>
<circle cx="357.80" cy="879.73" r="2.8" fill="none" stroke="#ad0e33" stroke-width="1.4"/>
<circle cx="422.40" cy="763.55" r="2.8" fill="none" stroke="#ad0e33" stroke-width="1.4"/>
<circle cx="486.80" cy="819.98" r="2.8" fill="none" stroke="#ad0e33" stroke-width="1.4"/>
<circle cx="357.80" cy="883.36" r="2.8" fill="none" stroke="#ad0e33" stroke-width="1.4"/>
<circle cx="422.40" cy="767.59" r="2.8" fill="none" stroke="#ad0e33" stroke-width="1.4"/>
<circle cx="486.80" cy="812.85" r="2.8" fill="none" stroke="#ad0e33" stroke-width="1.4"/>
<circle cx="357.80" cy="891.51" r="2.8" fill="none" stroke="#ad0e33" stroke-width="1.4"/>
<circle cx="422.40" cy="770.82" r="2.8" fill="none" stroke="#ad0e33" stroke-width="1.4"/>
<circle cx="486.80" cy="818.55" r="2.8" fill="none" stroke="#ad0e33" stroke-width="1.4"/>
<circle cx="357.80" cy="882.45" r="2.8" fill="none" stroke="#ad0e33" stroke-width="1.4"/>
<circle cx="422.40" cy="774.86" r="2.8" fill="none" stroke="#ad0e33" stroke-width="1.4"/>
<circle cx="486.80" cy="824.25" r="2.8" fill="none" stroke="#ad0e33" stroke-width="1.4"/>
<circle cx="357.80" cy="888.79" r="2.8" fill="none" stroke="#ad0e33" stroke-width="1.4"/>
<circle cx="422.40" cy="778.50" r="2.8" fill="none" stroke="#ad0e33" stroke-width="1.4"/>
<circle cx="486.80" cy="817.13" r="2.8" fill="none" stroke="#ad0e33" stroke-width="1.4"/>
<circle cx="357.80" cy="884.26" r="2.8" fill="none" stroke="#ad0e33" stroke-width="1.4"/>
<circle cx="422.40" cy="782.14" r="2.8" fill="none" stroke="#ad0e33" stroke-width="1.4"/>
<circle cx="486.80" cy="804.12" r="2.8" fill="none" stroke="#ad0e33" stroke-width="1.4"/>
<circle cx="357.80" cy="898.76" r="2.8" fill="none" stroke="#ad0e33" stroke-width="1.4"/>
<circle cx="422.40" cy="786.18" r="2.8" fill="none" stroke="#ad0e33" stroke-width="1.4"/>
<circle cx="486.80" cy="821.40" r="2.8" fill="none" stroke="#ad0e33" stroke-width="1.4"/>
<circle cx="357.80" cy="887.89" r="2.8" fill="none" stroke="#ad0e33" stroke-width="1.4"/>
<circle cx="422.40" cy="789.41" r="2.8" fill="none" stroke="#ad0e33" stroke-width="1.4"/>
<circle cx="486.80" cy="786.75" r="2.8" fill="none" stroke="#ad0e33" stroke-width="1.4"/>
<circle cx="357.80" cy="892.42" r="2.8" fill="none" stroke="#ad0e33" stroke-width="1.4"/>
<circle cx="422.40" cy="792.65" r="2.8" fill="none" stroke="#ad0e33" stroke-width="1.4"/>
<circle cx="486.80" cy="832.79" r="2.8" fill="none" stroke="#ad0e33" stroke-width="1.4"/>
<circle cx="357.80" cy="867.82" r="2.8" fill="none" stroke="#ad0e33" stroke-width="1.4"/>
<circle cx="422.40" cy="795.88" r="2.8" fill="none" stroke="#ad0e33" stroke-width="1.4"/>
<circle cx="486.80" cy="814.28" r="2.8" fill="none" stroke="#ad0e33" stroke-width="1.4"/>
<circle cx="357.80" cy="895.13" r="2.8" fill="none" stroke="#ad0e33" stroke-width="1.4"/>
<circle cx="422.40" cy="799.11" r="2.8" fill="none" stroke="#ad0e33" stroke-width="1.4"/>
<circle cx="486.80" cy="827.10" r="2.8" fill="none" stroke="#ad0e33" stroke-width="1.4"/>
<circle cx="357.80" cy="890.60" r="2.8" fill="none" stroke="#ad0e33" stroke-width="1.4"/>
<circle cx="422.40" cy="800.97" r="2.8" fill="none" stroke="#ad0e33" stroke-width="1.4"/>
<circle cx="486.80" cy="835.64" r="2.8" fill="none" stroke="#ad0e33" stroke-width="1.4"/>
<circle cx="357.80" cy="894.23" r="2.8" fill="none" stroke="#ad0e33" stroke-width="1.4"/>
<circle cx="422.40" cy="804.77" r="2.8" fill="none" stroke="#ad0e33" stroke-width="1.4"/>
<circle cx="486.80" cy="831.37" r="2.8" fill="none" stroke="#ad0e33" stroke-width="1.4"/>
<circle cx="357.80" cy="886.08" r="2.8" fill="none" stroke="#ad0e33" stroke-width="1.4"/>
<circle cx="422.40" cy="808.00" r="2.8" fill="none" stroke="#ad0e33" stroke-width="1.4"/>
<circle cx="486.80" cy="825.67" r="2.8" fill="none" stroke="#ad0e33" stroke-width="1.4"/>
<circle cx="357.80" cy="889.70" r="2.8" fill="none" stroke="#ad0e33" stroke-width="1.4"/>
<circle cx="422.40" cy="811.24" r="2.8" fill="none" stroke="#ad0e33" stroke-width="1.4"/>
<circle cx="486.80" cy="837.07" r="2.8" fill="none" stroke="#ad0e33" stroke-width="1.4"/>
<circle cx="357.80" cy="901.47" r="2.8" fill="none" stroke="#ad0e33" stroke-width="1.4"/>
<circle cx="422.40" cy="813.91" r="2.8" fill="none" stroke="#ad0e33" stroke-width="1.4"/>
<circle cx="486.80" cy="838.49" r="2.8" fill="none" stroke="#ad0e33" stroke-width="1.4"/>
<circle cx="357.80" cy="886.98" r="2.8" fill="none" stroke="#ad0e33" stroke-width="1.4"/>
<circle cx="422.40" cy="817.14" r="2.8" fill="none" stroke="#ad0e33" stroke-width="1.4"/>
<circle cx="486.80" cy="834.22" r="2.8" fill="none" stroke="#ad0e33" stroke-width="1.4"/>
<circle cx="357.80" cy="896.95" r="2.8" fill="none" stroke="#ad0e33" stroke-width="1.4"/>
<circle cx="422.40" cy="820.94" r="2.8" fill="none" stroke="#ad0e33" stroke-width="1.4"/>
<circle cx="486.80" cy="841.34" r="2.8" fill="none" stroke="#ad0e33" stroke-width="1.4"/>
<circle cx="357.80" cy="896.04" r="2.8" fill="none" stroke="#ad0e33" stroke-width="1.4"/>
<circle cx="422.40" cy="824.66" r="2.8" fill="none" stroke="#ad0e33" stroke-width="1.4"/>
<circle cx="486.80" cy="864.99" r="2.8" fill="none" stroke="#ad0e33" stroke-width="1.4"/>
<circle cx="357.80" cy="897.85" r="2.8" fill="none" stroke="#ad0e33" stroke-width="1.4"/>
<circle cx="422.40" cy="829.02" r="2.8" fill="none" stroke="#ad0e33" stroke-width="1.4"/>
<circle cx="486.80" cy="842.76" r="2.8" fill="none" stroke="#ad0e33" stroke-width="1.4"/>
<circle cx="357.80" cy="893.32" r="2.8" fill="none" stroke="#ad0e33" stroke-width="1.4"/>
<circle cx="422.40" cy="833.30" r="2.8" fill="none" stroke="#ad0e33" stroke-width="1.4"/>
<circle cx="486.80" cy="859.74" r="2.8" fill="none" stroke="#ad0e33" stroke-width="1.4"/>
<circle cx="357.80" cy="900.57" r="2.8" fill="none" stroke="#ad0e33" stroke-width="1.4"/>
<circle cx="422.40" cy="837.51" r="2.8" fill="none" stroke="#ad0e33" stroke-width="1.4"/>
<circle cx="486.80" cy="848.42" r="2.8" fill="none" stroke="#ad0e33" stroke-width="1.4"/>
<circle cx="357.80" cy="904.19" r="2.8" fill="none" stroke="#ad0e33" stroke-width="1.4"/>
<circle cx="422.40" cy="841.15" r="2.8" fill="none" stroke="#ad0e33" stroke-width="1.4"/>
<circle cx="486.80" cy="829.94" r="2.8" fill="none" stroke="#ad0e33" stroke-width="1.4"/>
<circle cx="357.80" cy="903.29" r="2.8" fill="none" stroke="#ad0e33" stroke-width="1.4"/>
<circle cx="422.40" cy="850.44" r="2.8" fill="none" stroke="#ad0e33" stroke-width="1.4"/>
<circle cx="486.80" cy="839.91" r="2.8" fill="none" stroke="#ad0e33" stroke-width="1.4"/>
<circle cx="357.80" cy="902.38" r="2.8" fill="none" stroke="#ad0e33" stroke-width="1.4"/>
<circle cx="422.40" cy="853.59" r="2.8" fill="none" stroke="#ad0e33" stroke-width="1.4"/>
<circle cx="486.80" cy="854.48" r="2.8" fill="none" stroke="#ad0e33" stroke-width="1.4"/>
<circle cx="357.80" cy="899.66" r="2.8" fill="none" stroke="#ad0e33" stroke-width="1.4"/>
<circle cx="422.40" cy="861.35" r="2.8" fill="none" stroke="#ad0e33" stroke-width="1.4"/>
<circle cx="486.80" cy="871.05" r="2.8" fill="none" stroke="#ad0e33" stroke-width="1.4"/>
</svg></body></html>
